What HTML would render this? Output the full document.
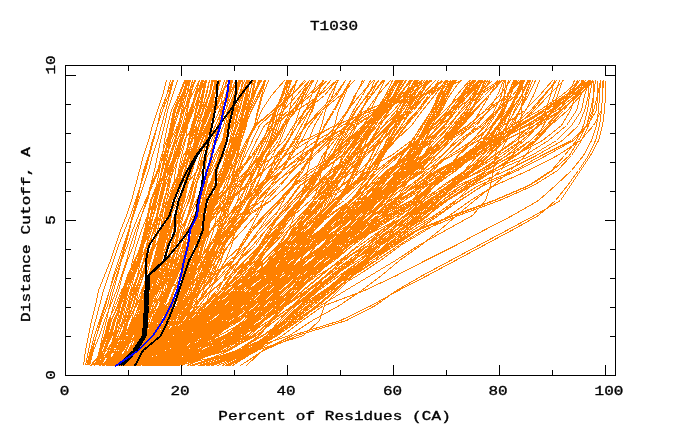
<!DOCTYPE html>
<html><head><meta charset="utf-8"><title>T1030</title>
<style>
html,body{margin:0;padding:0;background:#fff;}
body{width:680px;height:440px;overflow:hidden;position:relative;}
svg{position:absolute;left:0;top:0;display:block;}
text{font-family:"Liberation Mono","DejaVu Sans Mono",monospace;font-weight:normal;font-size:16px;fill:#000;stroke:#000;stroke-width:0.45px;}
</style></head><body>
<svg width="680" height="440" viewBox="0 0 680 440">
<rect width="680" height="440" fill="#fff"/>
<g fill="none" stroke="#ff8000" stroke-width="1" shape-rendering="crispEdges" stroke-linejoin="round">
<polyline points="98.5,365.5 101.5,350.5 105.5,335.5 109.5,320.5 113.5,305.5 118.5,290.5 122.5,275.5 127.5,260.5 133.5,245.5 137.5,230.5 141.5,215.5 146.5,200.5 150.5,185.5 154.5,170.5 157.5,155.5 160.5,140.5 164.5,125.5 167.5,110.5 172.5,95.5 177.5,80.5"/>
<polyline points="87.5,365.5 91.5,350.5 96.5,335.5 101.5,320.5 107.5,305.5 111.5,290.5 116.5,275.5 121.5,260.5 127.5,245.5 132.5,230.5 138.5,215.5 145.5,200.5 152.5,185.5 158.5,170.5 163.5,155.5 168.5,140.5 173.5,125.5 177.5,110.5 182.5,95.5 188.5,80.5"/>
<polyline points="89.5,365.5 93.5,350.5 99.5,335.5 104.5,320.5 110.5,305.5 116.5,290.5 121.5,275.5 126.5,260.5 130.5,245.5 135.5,230.5 141.5,215.5 147.5,200.5 151.5,185.5 157.5,170.5 161.5,155.5 166.5,140.5 172.5,125.5 178.5,110.5 182.5,95.5 186.5,80.5"/>
<polyline points="98.5,365.5 99.5,350.5 102.5,335.5 106.5,320.5 109.5,305.5 113.5,290.5 117.5,275.5 121.5,260.5 125.5,245.5 129.5,230.5 132.5,215.5 136.5,200.5 140.5,185.5 145.5,170.5 149.5,155.5 153.5,140.5 157.5,125.5 160.5,110.5 166.5,95.5 172.5,80.5"/>
<polyline points="97.5,365.5 103.5,350.5 108.5,335.5 114.5,320.5 119.5,305.5 124.5,290.5 130.5,275.5 135.5,260.5 141.5,245.5 146.5,230.5 150.5,215.5 156.5,200.5 160.5,185.5 164.5,170.5 167.5,155.5 170.5,140.5 174.5,125.5 179.5,110.5 183.5,95.5 188.5,80.5"/>
<polyline points="88.5,365.5 92.5,350.5 96.5,335.5 100.5,320.5 105.5,305.5 109.5,290.5 114.5,275.5 120.5,260.5 124.5,245.5 128.5,230.5 132.5,215.5 137.5,200.5 140.5,185.5 143.5,170.5 148.5,155.5 153.5,140.5 157.5,125.5 162.5,110.5 168.5,95.5 172.5,80.5"/>
<polyline points="100.5,365.5 108.5,350.5 115.5,335.5 123.5,320.5 127.5,305.5 131.5,290.5 137.5,275.5 144.5,260.5 149.5,245.5 153.5,230.5 156.5,215.5 159.5,200.5 163.5,185.5 166.5,170.5 171.5,155.5 175.5,140.5 180.5,125.5 184.5,110.5 188.5,95.5 192.5,80.5"/>
<polyline points="109.5,365.5 117.5,350.5 122.5,335.5 127.5,320.5 130.5,305.5 133.5,290.5 138.5,275.5 143.5,260.5 146.5,245.5 149.5,230.5 153.5,215.5 155.5,200.5 160.5,185.5 164.5,170.5 169.5,155.5 174.5,140.5 179.5,125.5 182.5,110.5 186.5,95.5 189.5,80.5"/>
<polyline points="105.5,365.5 111.5,350.5 116.5,335.5 120.5,320.5 124.5,305.5 128.5,290.5 133.5,275.5 139.5,260.5 143.5,245.5 147.5,230.5 150.5,215.5 153.5,200.5 158.5,185.5 162.5,170.5 166.5,155.5 172.5,140.5 178.5,125.5 182.5,110.5 186.5,95.5 190.5,80.5"/>
<polyline points="106.5,365.5 117.5,350.5 130.5,335.5 137.5,320.5 141.5,305.5 145.5,290.5 151.5,275.5 156.5,260.5 159.5,245.5 162.5,230.5 164.5,215.5 166.5,200.5 169.5,185.5 172.5,170.5 175.5,155.5 179.5,140.5 184.5,125.5 187.5,110.5 190.5,95.5 194.5,80.5"/>
<polyline points="109.5,365.5 119.5,350.5 125.5,335.5 131.5,320.5 135.5,305.5 138.5,290.5 143.5,275.5 148.5,260.5 152.5,245.5 155.5,230.5 157.5,215.5 159.5,200.5 162.5,185.5 165.5,170.5 169.5,155.5 174.5,140.5 178.5,125.5 181.5,110.5 184.5,95.5 188.5,80.5"/>
<polyline points="106.5,365.5 121.5,350.5 132.5,335.5 140.5,320.5 145.5,305.5 149.5,290.5 155.5,275.5 160.5,260.5 163.5,245.5 166.5,230.5 168.5,215.5 170.5,200.5 173.5,185.5 175.5,170.5 178.5,155.5 182.5,140.5 185.5,125.5 187.5,110.5 189.5,95.5 192.5,80.5"/>
<polyline points="115.5,365.5 120.5,350.5 127.5,335.5 133.5,320.5 138.5,305.5 142.5,290.5 149.5,275.5 154.5,260.5 157.5,245.5 160.5,230.5 162.5,215.5 164.5,200.5 167.5,185.5 170.5,170.5 175.5,155.5 180.5,140.5 187.5,125.5 191.5,110.5 194.5,95.5 199.5,80.5"/>
<polyline points="109.5,365.5 115.5,350.5 122.5,335.5 127.5,320.5 133.5,305.5 137.5,290.5 143.5,275.5 149.5,260.5 153.5,245.5 157.5,230.5 160.5,215.5 163.5,200.5 168.5,185.5 170.5,170.5 174.5,155.5 180.5,140.5 187.5,125.5 193.5,110.5 198.5,95.5 205.5,80.5"/>
<polyline points="124.5,365.5 129.5,350.5 134.5,335.5 138.5,320.5 143.5,305.5 146.5,290.5 150.5,275.5 153.5,260.5 157.5,245.5 160.5,230.5 162.5,215.5 164.5,200.5 167.5,185.5 170.5,170.5 173.5,155.5 177.5,140.5 182.5,125.5 186.5,110.5 189.5,95.5 195.5,80.5"/>
<polyline points="98.5,365.5 105.5,350.5 110.5,335.5 114.5,320.5 120.5,305.5 124.5,290.5 128.5,275.5 135.5,260.5 140.5,245.5 145.5,230.5 151.5,215.5 155.5,200.5 159.5,185.5 167.5,170.5 174.5,155.5 179.5,140.5 183.5,125.5 189.5,110.5 195.5,95.5 205.5,80.5"/>
<polyline points="94.5,365.5 100.5,350.5 106.5,335.5 111.5,320.5 117.5,305.5 122.5,290.5 127.5,275.5 134.5,260.5 141.5,245.5 146.5,230.5 151.5,215.5 155.5,200.5 158.5,185.5 165.5,170.5 171.5,155.5 174.5,140.5 180.5,125.5 184.5,110.5 191.5,95.5 199.5,80.5"/>
<polyline points="99.5,365.5 105.5,350.5 111.5,335.5 115.5,320.5 120.5,305.5 125.5,290.5 129.5,275.5 137.5,260.5 143.5,245.5 148.5,230.5 153.5,215.5 158.5,200.5 162.5,185.5 170.5,170.5 176.5,155.5 181.5,140.5 185.5,125.5 190.5,110.5 195.5,95.5 202.5,80.5"/>
<polyline points="95.5,365.5 100.5,350.5 105.5,335.5 109.5,320.5 113.5,305.5 118.5,290.5 122.5,275.5 127.5,260.5 133.5,245.5 137.5,230.5 141.5,215.5 146.5,200.5 150.5,185.5 157.5,170.5 164.5,155.5 169.5,140.5 174.5,125.5 179.5,110.5 185.5,95.5 195.5,80.5"/>
<polyline points="107.5,365.5 110.5,350.5 113.5,335.5 117.5,320.5 120.5,305.5 124.5,290.5 129.5,275.5 132.5,260.5 136.5,245.5 141.5,230.5 147.5,215.5 154.5,200.5 157.5,185.5 162.5,170.5 166.5,155.5 170.5,140.5 177.5,125.5 183.5,110.5 190.5,95.5 194.5,80.5"/>
<polyline points="113.5,365.5 117.5,350.5 121.5,335.5 125.5,320.5 128.5,305.5 132.5,290.5 137.5,275.5 140.5,260.5 146.5,245.5 151.5,230.5 157.5,215.5 161.5,200.5 165.5,185.5 171.5,170.5 177.5,155.5 182.5,140.5 187.5,125.5 192.5,110.5 195.5,95.5 199.5,80.5"/>
<polyline points="106.5,365.5 110.5,350.5 114.5,335.5 118.5,320.5 122.5,305.5 126.5,290.5 132.5,275.5 135.5,260.5 140.5,245.5 146.5,230.5 153.5,215.5 158.5,200.5 163.5,185.5 169.5,170.5 176.5,155.5 180.5,140.5 186.5,125.5 191.5,110.5 196.5,95.5 201.5,80.5"/>
<polyline points="108.5,365.5 111.5,350.5 115.5,335.5 118.5,320.5 122.5,305.5 128.5,290.5 133.5,275.5 137.5,260.5 143.5,245.5 150.5,230.5 156.5,215.5 160.5,200.5 164.5,185.5 168.5,170.5 175.5,155.5 180.5,140.5 186.5,125.5 191.5,110.5 196.5,95.5 201.5,80.5"/>
<polyline points="117.5,365.5 120.5,350.5 123.5,335.5 126.5,320.5 130.5,305.5 135.5,290.5 140.5,275.5 143.5,260.5 148.5,245.5 153.5,230.5 159.5,215.5 164.5,200.5 167.5,185.5 171.5,170.5 175.5,155.5 179.5,140.5 184.5,125.5 190.5,110.5 195.5,95.5 199.5,80.5"/>
<polyline points="120.5,365.5 125.5,350.5 131.5,335.5 135.5,320.5 140.5,305.5 147.5,290.5 151.5,275.5 155.5,260.5 161.5,245.5 165.5,230.5 169.5,215.5 173.5,200.5 176.5,185.5 178.5,170.5 181.5,155.5 185.5,140.5 187.5,125.5 190.5,110.5 196.5,95.5 202.5,80.5"/>
<polyline points="101.5,365.5 104.5,350.5 109.5,335.5 113.5,320.5 120.5,305.5 126.5,290.5 133.5,275.5 140.5,260.5 143.5,245.5 147.5,230.5 151.5,215.5 154.5,200.5 160.5,185.5 164.5,170.5 167.5,155.5 169.5,140.5 172.5,125.5 175.5,110.5 181.5,95.5 187.5,80.5"/>
<polyline points="97.5,365.5 101.5,350.5 107.5,335.5 111.5,320.5 118.5,305.5 123.5,290.5 132.5,275.5 138.5,260.5 142.5,245.5 146.5,230.5 148.5,215.5 151.5,200.5 157.5,185.5 162.5,170.5 165.5,155.5 168.5,140.5 171.5,125.5 174.5,110.5 182.5,95.5 189.5,80.5"/>
<polyline points="98.5,365.5 101.5,350.5 106.5,335.5 110.5,320.5 118.5,305.5 122.5,290.5 131.5,275.5 138.5,260.5 141.5,245.5 144.5,230.5 147.5,215.5 151.5,200.5 158.5,185.5 161.5,170.5 164.5,155.5 167.5,140.5 170.5,125.5 173.5,110.5 179.5,95.5 185.5,80.5"/>
<polyline points="95.5,365.5 99.5,350.5 106.5,335.5 111.5,320.5 118.5,305.5 123.5,290.5 132.5,275.5 137.5,260.5 141.5,245.5 145.5,230.5 147.5,215.5 150.5,200.5 156.5,185.5 159.5,170.5 162.5,155.5 164.5,140.5 167.5,125.5 171.5,110.5 178.5,95.5 184.5,80.5"/>
<polyline points="95.5,365.5 99.5,350.5 104.5,335.5 108.5,320.5 115.5,305.5 121.5,290.5 129.5,275.5 137.5,260.5 140.5,245.5 144.5,230.5 148.5,215.5 151.5,200.5 158.5,185.5 162.5,170.5 165.5,155.5 167.5,140.5 170.5,125.5 173.5,110.5 181.5,95.5 187.5,80.5"/>
<polyline points="115.5,365.5 120.5,350.5 128.5,335.5 136.5,320.5 144.5,305.5 149.5,290.5 152.5,275.5 157.5,260.5 161.5,245.5 166.5,230.5 170.5,215.5 173.5,200.5 178.5,185.5 180.5,170.5 185.5,155.5 189.5,140.5 194.5,125.5 199.5,110.5 202.5,95.5 205.5,80.5"/>
<polyline points="124.5,365.5 130.5,350.5 137.5,335.5 141.5,320.5 145.5,305.5 149.5,290.5 152.5,275.5 156.5,260.5 159.5,245.5 161.5,230.5 165.5,215.5 169.5,200.5 175.5,185.5 182.5,170.5 188.5,155.5 191.5,140.5 194.5,125.5 198.5,110.5 203.5,95.5 206.5,80.5"/>
<polyline points="110.5,365.5 123.5,350.5 132.5,335.5 139.5,320.5 144.5,305.5 147.5,290.5 150.5,275.5 154.5,260.5 157.5,245.5 160.5,230.5 164.5,215.5 168.5,200.5 173.5,185.5 181.5,170.5 185.5,155.5 188.5,140.5 191.5,125.5 196.5,110.5 201.5,95.5 205.5,80.5"/>
<polyline points="117.5,365.5 122.5,350.5 128.5,335.5 133.5,320.5 138.5,305.5 142.5,290.5 146.5,275.5 150.5,260.5 154.5,245.5 157.5,230.5 161.5,215.5 166.5,200.5 172.5,185.5 180.5,170.5 186.5,155.5 189.5,140.5 193.5,125.5 198.5,110.5 202.5,95.5 205.5,80.5"/>
<polyline points="123.5,365.5 133.5,350.5 140.5,335.5 146.5,320.5 151.5,305.5 154.5,290.5 157.5,275.5 161.5,260.5 166.5,245.5 168.5,230.5 171.5,215.5 174.5,200.5 179.5,185.5 187.5,170.5 193.5,155.5 197.5,140.5 202.5,125.5 207.5,110.5 212.5,95.5 216.5,80.5"/>
<polyline points="124.5,365.5 132.5,350.5 144.5,335.5 154.5,320.5 162.5,305.5 166.5,290.5 169.5,275.5 173.5,260.5 175.5,245.5 178.5,230.5 180.5,215.5 183.5,200.5 186.5,185.5 189.5,170.5 192.5,155.5 195.5,140.5 198.5,125.5 203.5,110.5 209.5,95.5 211.5,80.5"/>
<polyline points="134.5,365.5 141.5,350.5 148.5,335.5 155.5,320.5 159.5,305.5 162.5,290.5 165.5,275.5 168.5,260.5 171.5,245.5 173.5,230.5 176.5,215.5 179.5,200.5 183.5,185.5 187.5,170.5 191.5,155.5 194.5,140.5 198.5,125.5 203.5,110.5 209.5,95.5 213.5,80.5"/>
<polyline points="127.5,365.5 138.5,350.5 148.5,335.5 157.5,320.5 163.5,305.5 166.5,290.5 170.5,275.5 172.5,260.5 175.5,245.5 177.5,230.5 179.5,215.5 182.5,200.5 185.5,185.5 188.5,170.5 191.5,155.5 194.5,140.5 196.5,125.5 200.5,110.5 206.5,95.5 209.5,80.5"/>
<polyline points="132.5,365.5 140.5,350.5 149.5,335.5 154.5,320.5 159.5,305.5 162.5,290.5 165.5,275.5 169.5,260.5 172.5,245.5 175.5,230.5 177.5,215.5 181.5,200.5 186.5,185.5 190.5,170.5 194.5,155.5 197.5,140.5 201.5,125.5 206.5,110.5 212.5,95.5 215.5,80.5"/>
<polyline points="94.5,365.5 115.5,350.5 131.5,335.5 139.5,320.5 143.5,305.5 148.5,290.5 151.5,275.5 155.5,260.5 161.5,245.5 166.5,230.5 170.5,215.5 173.5,200.5 177.5,185.5 182.5,170.5 185.5,155.5 189.5,140.5 196.5,125.5 200.5,110.5 203.5,95.5 206.5,80.5"/>
<polyline points="90.5,365.5 106.5,350.5 116.5,335.5 122.5,320.5 125.5,305.5 130.5,290.5 134.5,275.5 140.5,260.5 147.5,245.5 154.5,230.5 159.5,215.5 164.5,200.5 168.5,185.5 173.5,170.5 179.5,155.5 184.5,140.5 193.5,125.5 196.5,110.5 199.5,95.5 203.5,80.5"/>
<polyline points="90.5,365.5 103.5,350.5 112.5,335.5 119.5,320.5 123.5,305.5 127.5,290.5 131.5,275.5 137.5,260.5 143.5,245.5 148.5,230.5 153.5,215.5 156.5,200.5 160.5,185.5 165.5,170.5 170.5,155.5 176.5,140.5 186.5,125.5 192.5,110.5 195.5,95.5 199.5,80.5"/>
<polyline points="98.5,365.5 111.5,350.5 120.5,335.5 127.5,320.5 132.5,305.5 136.5,290.5 141.5,275.5 148.5,260.5 155.5,245.5 163.5,230.5 169.5,215.5 173.5,200.5 178.5,185.5 182.5,170.5 186.5,155.5 192.5,140.5 198.5,125.5 202.5,110.5 205.5,95.5 209.5,80.5"/>
<polyline points="106.5,365.5 110.5,350.5 118.5,335.5 124.5,320.5 129.5,305.5 134.5,290.5 141.5,275.5 146.5,260.5 152.5,245.5 159.5,230.5 166.5,215.5 170.5,200.5 176.5,185.5 181.5,170.5 185.5,155.5 188.5,140.5 192.5,125.5 195.5,110.5 198.5,95.5 202.5,80.5"/>
<polyline points="143.5,365.5 154.5,350.5 165.5,335.5 171.5,320.5 178.5,305.5 182.5,290.5 187.5,275.5 193.5,260.5 197.5,245.5 202.5,230.5 207.5,215.5 211.5,200.5 219.5,185.5 225.5,170.5 231.5,155.5 235.5,140.5 239.5,125.5 243.5,110.5 247.5,95.5 249.5,80.5"/>
<polyline points="137.5,365.5 149.5,350.5 161.5,335.5 168.5,320.5 174.5,305.5 179.5,290.5 185.5,275.5 193.5,260.5 198.5,245.5 204.5,230.5 208.5,215.5 212.5,200.5 220.5,185.5 227.5,170.5 231.5,155.5 235.5,140.5 239.5,125.5 242.5,110.5 246.5,95.5 248.5,80.5"/>
<polyline points="142.5,365.5 152.5,350.5 163.5,335.5 169.5,320.5 177.5,305.5 181.5,290.5 187.5,275.5 192.5,260.5 197.5,245.5 203.5,230.5 208.5,215.5 213.5,200.5 221.5,185.5 228.5,170.5 233.5,155.5 237.5,140.5 243.5,125.5 248.5,110.5 252.5,95.5 255.5,80.5"/>
<polyline points="134.5,365.5 145.5,350.5 156.5,335.5 162.5,320.5 169.5,305.5 174.5,290.5 181.5,275.5 186.5,260.5 190.5,245.5 195.5,230.5 199.5,215.5 203.5,200.5 210.5,185.5 216.5,170.5 220.5,155.5 223.5,140.5 227.5,125.5 231.5,110.5 236.5,95.5 238.5,80.5"/>
<polyline points="140.5,365.5 148.5,350.5 157.5,335.5 162.5,320.5 168.5,305.5 173.5,290.5 179.5,275.5 186.5,260.5 190.5,245.5 195.5,230.5 201.5,215.5 205.5,200.5 214.5,185.5 221.5,170.5 227.5,155.5 232.5,140.5 236.5,125.5 241.5,110.5 245.5,95.5 248.5,80.5"/>
<polyline points="138.5,365.5 145.5,350.5 151.5,335.5 157.5,320.5 161.5,305.5 167.5,290.5 171.5,275.5 175.5,260.5 178.5,245.5 181.5,230.5 188.5,215.5 192.5,200.5 195.5,185.5 200.5,170.5 205.5,155.5 211.5,140.5 217.5,125.5 225.5,110.5 231.5,95.5 236.5,80.5"/>
<polyline points="130.5,365.5 133.5,350.5 136.5,335.5 140.5,320.5 144.5,305.5 149.5,290.5 153.5,275.5 156.5,260.5 160.5,245.5 162.5,230.5 169.5,215.5 174.5,200.5 179.5,185.5 184.5,170.5 190.5,155.5 195.5,140.5 199.5,125.5 206.5,110.5 211.5,95.5 215.5,80.5"/>
<polyline points="121.5,365.5 142.5,350.5 159.5,335.5 171.5,320.5 179.5,305.5 184.5,290.5 189.5,275.5 196.5,260.5 203.5,245.5 206.5,230.5 211.5,215.5 216.5,200.5 220.5,185.5 225.5,170.5 230.5,155.5 232.5,140.5 235.5,125.5 237.5,110.5 240.5,95.5 242.5,80.5"/>
<polyline points="132.5,365.5 137.5,350.5 141.5,335.5 145.5,320.5 149.5,305.5 152.5,290.5 157.5,275.5 165.5,260.5 173.5,245.5 179.5,230.5 188.5,215.5 196.5,200.5 203.5,185.5 212.5,170.5 219.5,155.5 223.5,140.5 226.5,125.5 230.5,110.5 234.5,95.5 238.5,80.5"/>
<polyline points="103.5,365.5 111.5,350.5 118.5,335.5 123.5,320.5 129.5,305.5 134.5,290.5 142.5,275.5 147.5,260.5 152.5,245.5 155.5,230.5 159.5,215.5 168.5,200.5 176.5,185.5 181.5,170.5 186.5,155.5 196.5,140.5 201.5,125.5 206.5,110.5 211.5,95.5 216.5,80.5"/>
<polyline points="109.5,365.5 115.5,350.5 123.5,335.5 128.5,320.5 135.5,305.5 141.5,290.5 148.5,275.5 153.5,260.5 157.5,245.5 160.5,230.5 164.5,215.5 174.5,200.5 180.5,185.5 184.5,170.5 188.5,155.5 197.5,140.5 202.5,125.5 208.5,110.5 212.5,95.5 216.5,80.5"/>
<polyline points="112.5,365.5 119.5,350.5 128.5,335.5 134.5,320.5 140.5,305.5 147.5,290.5 155.5,275.5 160.5,260.5 164.5,245.5 167.5,230.5 170.5,215.5 178.5,200.5 184.5,185.5 188.5,170.5 192.5,155.5 199.5,140.5 202.5,125.5 207.5,110.5 212.5,95.5 216.5,80.5"/>
<polyline points="116.5,365.5 122.5,350.5 131.5,335.5 136.5,320.5 144.5,305.5 151.5,290.5 159.5,275.5 165.5,260.5 168.5,245.5 171.5,230.5 175.5,215.5 181.5,200.5 186.5,185.5 190.5,170.5 194.5,155.5 202.5,140.5 207.5,125.5 212.5,110.5 216.5,95.5 220.5,80.5"/>
<polyline points="110.5,365.5 117.5,350.5 126.5,335.5 132.5,320.5 139.5,305.5 145.5,290.5 152.5,275.5 157.5,260.5 161.5,245.5 164.5,230.5 169.5,215.5 176.5,200.5 181.5,185.5 185.5,170.5 189.5,155.5 197.5,140.5 201.5,125.5 205.5,110.5 208.5,95.5 212.5,80.5"/>
<polyline points="111.5,365.5 122.5,350.5 132.5,335.5 137.5,320.5 142.5,305.5 146.5,290.5 151.5,275.5 154.5,260.5 158.5,245.5 161.5,230.5 164.5,215.5 171.5,200.5 175.5,185.5 179.5,170.5 183.5,155.5 191.5,140.5 196.5,125.5 202.5,110.5 208.5,95.5 212.5,80.5"/>
<polyline points="131.5,365.5 143.5,350.5 152.5,335.5 159.5,320.5 164.5,305.5 169.5,290.5 175.5,275.5 181.5,260.5 185.5,245.5 191.5,230.5 197.5,215.5 202.5,200.5 205.5,185.5 208.5,170.5 210.5,155.5 213.5,140.5 218.5,125.5 223.5,110.5 228.5,95.5 231.5,80.5"/>
<polyline points="115.5,365.5 135.5,350.5 154.5,335.5 166.5,320.5 172.5,305.5 179.5,290.5 186.5,275.5 192.5,260.5 196.5,245.5 203.5,230.5 210.5,215.5 217.5,200.5 219.5,185.5 223.5,170.5 226.5,155.5 229.5,140.5 233.5,125.5 239.5,110.5 243.5,95.5 246.5,80.5"/>
<polyline points="129.5,365.5 138.5,350.5 147.5,335.5 155.5,320.5 161.5,305.5 168.5,290.5 174.5,275.5 179.5,260.5 183.5,245.5 188.5,230.5 194.5,215.5 199.5,200.5 203.5,185.5 207.5,170.5 211.5,155.5 215.5,140.5 219.5,125.5 225.5,110.5 229.5,95.5 232.5,80.5"/>
<polyline points="124.5,365.5 133.5,350.5 142.5,335.5 152.5,320.5 160.5,305.5 168.5,290.5 175.5,275.5 180.5,260.5 183.5,245.5 188.5,230.5 194.5,215.5 200.5,200.5 203.5,185.5 207.5,170.5 210.5,155.5 213.5,140.5 217.5,125.5 223.5,110.5 227.5,95.5 231.5,80.5"/>
<polyline points="138.5,365.5 149.5,350.5 162.5,335.5 174.5,320.5 180.5,305.5 185.5,290.5 192.5,275.5 196.5,260.5 199.5,245.5 203.5,230.5 207.5,215.5 210.5,200.5 214.5,185.5 217.5,170.5 221.5,155.5 224.5,140.5 227.5,125.5 229.5,110.5 234.5,95.5 238.5,80.5"/>
<polyline points="138.5,365.5 147.5,350.5 157.5,335.5 168.5,320.5 174.5,305.5 181.5,290.5 189.5,275.5 193.5,260.5 195.5,245.5 198.5,230.5 202.5,215.5 207.5,200.5 212.5,185.5 216.5,170.5 220.5,155.5 223.5,140.5 227.5,125.5 229.5,110.5 235.5,95.5 239.5,80.5"/>
<polyline points="133.5,365.5 143.5,350.5 155.5,335.5 166.5,320.5 173.5,305.5 179.5,290.5 186.5,275.5 190.5,260.5 193.5,245.5 196.5,230.5 199.5,215.5 202.5,200.5 206.5,185.5 209.5,170.5 212.5,155.5 215.5,140.5 218.5,125.5 220.5,110.5 225.5,95.5 230.5,80.5"/>
<polyline points="134.5,365.5 144.5,350.5 154.5,335.5 165.5,320.5 171.5,305.5 177.5,290.5 185.5,275.5 189.5,260.5 192.5,245.5 197.5,230.5 201.5,215.5 206.5,200.5 211.5,185.5 216.5,170.5 219.5,155.5 222.5,140.5 225.5,125.5 228.5,110.5 234.5,95.5 239.5,80.5"/>
<polyline points="121.5,365.5 129.5,350.5 141.5,335.5 146.5,320.5 150.5,305.5 156.5,290.5 161.5,275.5 166.5,260.5 171.5,245.5 177.5,230.5 182.5,215.5 189.5,200.5 193.5,185.5 199.5,170.5 204.5,155.5 209.5,140.5 215.5,125.5 222.5,110.5 229.5,95.5 235.5,80.5"/>
<polyline points="120.5,365.5 128.5,350.5 135.5,335.5 138.5,320.5 142.5,305.5 149.5,290.5 155.5,275.5 159.5,260.5 163.5,245.5 169.5,230.5 174.5,215.5 180.5,200.5 185.5,185.5 191.5,170.5 196.5,155.5 202.5,140.5 208.5,125.5 214.5,110.5 220.5,95.5 227.5,80.5"/>
<polyline points="123.5,365.5 132.5,350.5 142.5,335.5 146.5,320.5 149.5,305.5 154.5,290.5 160.5,275.5 164.5,260.5 168.5,245.5 174.5,230.5 180.5,215.5 186.5,200.5 191.5,185.5 196.5,170.5 200.5,155.5 204.5,140.5 208.5,125.5 215.5,110.5 221.5,95.5 227.5,80.5"/>
<polyline points="121.5,365.5 133.5,350.5 143.5,335.5 149.5,320.5 153.5,305.5 157.5,290.5 162.5,275.5 165.5,260.5 168.5,245.5 170.5,230.5 174.5,215.5 179.5,200.5 184.5,185.5 188.5,170.5 192.5,155.5 197.5,140.5 201.5,125.5 208.5,110.5 213.5,95.5 219.5,80.5"/>
<polyline points="113.5,365.5 128.5,350.5 140.5,335.5 147.5,320.5 153.5,305.5 160.5,290.5 164.5,275.5 167.5,260.5 171.5,245.5 174.5,230.5 179.5,215.5 182.5,200.5 186.5,185.5 190.5,170.5 193.5,155.5 199.5,140.5 203.5,125.5 209.5,110.5 213.5,95.5 219.5,80.5"/>
<polyline points="117.5,365.5 131.5,350.5 141.5,335.5 147.5,320.5 155.5,305.5 162.5,290.5 167.5,275.5 172.5,260.5 176.5,245.5 179.5,230.5 183.5,215.5 188.5,200.5 192.5,185.5 196.5,170.5 200.5,155.5 205.5,140.5 209.5,125.5 214.5,110.5 219.5,95.5 224.5,80.5"/>
<polyline points="139.5,365.5 156.5,350.5 169.5,335.5 177.5,320.5 182.5,305.5 187.5,290.5 192.5,275.5 197.5,260.5 201.5,245.5 205.5,230.5 209.5,215.5 212.5,200.5 218.5,185.5 227.5,170.5 234.5,155.5 239.5,140.5 242.5,125.5 246.5,110.5 252.5,95.5 260.5,80.5"/>
<polyline points="138.5,365.5 149.5,350.5 158.5,335.5 166.5,320.5 172.5,305.5 179.5,290.5 184.5,275.5 189.5,260.5 196.5,245.5 202.5,230.5 206.5,215.5 209.5,200.5 214.5,185.5 223.5,170.5 231.5,155.5 238.5,140.5 243.5,125.5 249.5,110.5 257.5,95.5 264.5,80.5"/>
<polyline points="148.5,365.5 164.5,350.5 176.5,335.5 183.5,320.5 189.5,305.5 195.5,290.5 200.5,275.5 204.5,260.5 208.5,245.5 213.5,230.5 216.5,215.5 220.5,200.5 224.5,185.5 230.5,170.5 236.5,155.5 240.5,140.5 243.5,125.5 247.5,110.5 252.5,95.5 259.5,80.5"/>
<polyline points="138.5,365.5 150.5,350.5 160.5,335.5 167.5,320.5 172.5,305.5 176.5,290.5 182.5,275.5 187.5,260.5 193.5,245.5 199.5,230.5 203.5,215.5 207.5,200.5 211.5,185.5 220.5,170.5 229.5,155.5 235.5,140.5 239.5,125.5 244.5,110.5 252.5,95.5 259.5,80.5"/>
<polyline points="136.5,365.5 154.5,350.5 167.5,335.5 177.5,320.5 183.5,305.5 189.5,290.5 193.5,275.5 197.5,260.5 202.5,245.5 206.5,230.5 210.5,215.5 214.5,200.5 219.5,185.5 227.5,170.5 233.5,155.5 238.5,140.5 242.5,125.5 246.5,110.5 252.5,95.5 259.5,80.5"/>
<polyline points="133.5,365.5 149.5,350.5 164.5,335.5 173.5,320.5 179.5,305.5 185.5,290.5 190.5,275.5 197.5,260.5 202.5,245.5 207.5,230.5 209.5,215.5 212.5,200.5 216.5,185.5 224.5,170.5 234.5,155.5 239.5,140.5 243.5,125.5 247.5,110.5 253.5,95.5 260.5,80.5"/>
<polyline points="144.5,365.5 159.5,350.5 172.5,335.5 179.5,320.5 185.5,305.5 191.5,290.5 194.5,275.5 198.5,260.5 203.5,245.5 207.5,230.5 210.5,215.5 212.5,200.5 216.5,185.5 225.5,170.5 232.5,155.5 237.5,140.5 241.5,125.5 246.5,110.5 252.5,95.5 259.5,80.5"/>
<polyline points="139.5,365.5 153.5,350.5 163.5,335.5 172.5,320.5 180.5,305.5 185.5,290.5 192.5,275.5 199.5,260.5 203.5,245.5 208.5,230.5 211.5,215.5 214.5,200.5 220.5,185.5 225.5,170.5 232.5,155.5 239.5,140.5 244.5,125.5 251.5,110.5 259.5,95.5 265.5,80.5"/>
<polyline points="138.5,365.5 152.5,350.5 160.5,335.5 169.5,320.5 177.5,305.5 182.5,290.5 189.5,275.5 197.5,260.5 201.5,245.5 206.5,230.5 211.5,215.5 215.5,200.5 220.5,185.5 226.5,170.5 233.5,155.5 241.5,140.5 245.5,125.5 251.5,110.5 258.5,95.5 264.5,80.5"/>
<polyline points="138.5,365.5 151.5,350.5 159.5,335.5 169.5,320.5 176.5,305.5 182.5,290.5 188.5,275.5 196.5,260.5 199.5,245.5 204.5,230.5 208.5,215.5 213.5,200.5 219.5,185.5 224.5,170.5 231.5,155.5 237.5,140.5 242.5,125.5 249.5,110.5 257.5,95.5 265.5,80.5"/>
<polyline points="134.5,365.5 139.5,350.5 146.5,335.5 149.5,320.5 155.5,305.5 164.5,290.5 168.5,275.5 174.5,260.5 180.5,245.5 183.5,230.5 187.5,215.5 191.5,200.5 195.5,185.5 202.5,170.5 207.5,155.5 217.5,140.5 223.5,125.5 227.5,110.5 233.5,95.5 238.5,80.5"/>
<polyline points="136.5,365.5 143.5,350.5 150.5,335.5 153.5,320.5 159.5,305.5 166.5,290.5 171.5,275.5 176.5,260.5 182.5,245.5 186.5,230.5 191.5,215.5 197.5,200.5 201.5,185.5 209.5,170.5 214.5,155.5 222.5,140.5 226.5,125.5 230.5,110.5 236.5,95.5 240.5,80.5"/>
<polyline points="133.5,365.5 146.5,350.5 159.5,335.5 164.5,320.5 172.5,305.5 181.5,290.5 186.5,275.5 192.5,260.5 199.5,245.5 203.5,230.5 208.5,215.5 213.5,200.5 218.5,185.5 226.5,170.5 232.5,155.5 239.5,140.5 244.5,125.5 249.5,110.5 254.5,95.5 258.5,80.5"/>
<polyline points="131.5,365.5 143.5,350.5 152.5,335.5 156.5,320.5 161.5,305.5 170.5,290.5 176.5,275.5 182.5,260.5 188.5,245.5 192.5,230.5 199.5,215.5 204.5,200.5 208.5,185.5 216.5,170.5 223.5,155.5 231.5,140.5 237.5,125.5 243.5,110.5 248.5,95.5 253.5,80.5"/>
<polyline points="133.5,365.5 140.5,350.5 148.5,335.5 151.5,320.5 159.5,305.5 170.5,290.5 173.5,275.5 177.5,260.5 184.5,245.5 188.5,230.5 194.5,215.5 199.5,200.5 202.5,185.5 209.5,170.5 214.5,155.5 223.5,140.5 231.5,125.5 235.5,110.5 242.5,95.5 246.5,80.5"/>
<polyline points="139.5,365.5 143.5,350.5 149.5,335.5 155.5,320.5 164.5,305.5 170.5,290.5 176.5,275.5 183.5,260.5 190.5,245.5 201.5,230.5 207.5,215.5 213.5,200.5 217.5,185.5 223.5,170.5 229.5,155.5 234.5,140.5 240.5,125.5 244.5,110.5 248.5,95.5 253.5,80.5"/>
<polyline points="133.5,365.5 140.5,350.5 149.5,335.5 158.5,320.5 167.5,305.5 173.5,290.5 179.5,275.5 186.5,260.5 192.5,245.5 199.5,230.5 204.5,215.5 209.5,200.5 214.5,185.5 221.5,170.5 228.5,155.5 233.5,140.5 239.5,125.5 242.5,110.5 246.5,95.5 249.5,80.5"/>
<polyline points="135.5,365.5 145.5,350.5 159.5,335.5 168.5,320.5 181.5,305.5 190.5,290.5 197.5,275.5 204.5,260.5 210.5,245.5 220.5,230.5 224.5,215.5 228.5,200.5 233.5,185.5 238.5,170.5 243.5,155.5 248.5,140.5 254.5,125.5 257.5,110.5 261.5,95.5 265.5,80.5"/>
<polyline points="142.5,365.5 150.5,350.5 164.5,335.5 177.5,320.5 188.5,305.5 198.5,290.5 205.5,275.5 210.5,260.5 214.5,245.5 218.5,230.5 222.5,215.5 226.5,200.5 230.5,185.5 233.5,170.5 236.5,155.5 239.5,140.5 244.5,125.5 246.5,110.5 249.5,95.5 252.5,80.5"/>
<polyline points="130.5,365.5 141.5,350.5 155.5,335.5 171.5,320.5 184.5,305.5 195.5,290.5 203.5,275.5 208.5,260.5 213.5,245.5 217.5,230.5 220.5,215.5 224.5,200.5 227.5,185.5 230.5,170.5 232.5,155.5 236.5,140.5 241.5,125.5 243.5,110.5 246.5,95.5 249.5,80.5"/>
<polyline points="144.5,365.5 153.5,350.5 164.5,335.5 172.5,320.5 179.5,305.5 185.5,290.5 189.5,275.5 193.5,260.5 198.5,245.5 203.5,230.5 208.5,215.5 212.5,200.5 217.5,185.5 221.5,170.5 225.5,155.5 230.5,140.5 235.5,125.5 238.5,110.5 243.5,95.5 248.5,80.5"/>
<polyline points="136.5,365.5 144.5,350.5 158.5,335.5 172.5,320.5 183.5,305.5 194.5,290.5 201.5,275.5 207.5,260.5 213.5,245.5 218.5,230.5 222.5,215.5 227.5,200.5 231.5,185.5 234.5,170.5 237.5,155.5 241.5,140.5 246.5,125.5 248.5,110.5 251.5,95.5 254.5,80.5"/>
<polyline points="128.5,365.5 132.5,350.5 138.5,335.5 142.5,320.5 148.5,305.5 153.5,290.5 158.5,275.5 163.5,260.5 167.5,245.5 171.5,230.5 175.5,215.5 179.5,200.5 185.5,185.5 197.5,170.5 202.5,155.5 207.5,140.5 215.5,125.5 221.5,110.5 225.5,95.5 229.5,80.5"/>
<polyline points="118.5,365.5 122.5,350.5 128.5,335.5 132.5,320.5 139.5,305.5 143.5,290.5 148.5,275.5 154.5,260.5 159.5,245.5 163.5,230.5 167.5,215.5 171.5,200.5 180.5,185.5 191.5,170.5 197.5,155.5 204.5,140.5 212.5,125.5 219.5,110.5 222.5,95.5 226.5,80.5"/>
<polyline points="126.5,365.5 131.5,350.5 136.5,335.5 139.5,320.5 144.5,305.5 149.5,290.5 154.5,275.5 158.5,260.5 160.5,245.5 163.5,230.5 168.5,215.5 171.5,200.5 177.5,185.5 187.5,170.5 192.5,155.5 197.5,140.5 204.5,125.5 210.5,110.5 214.5,95.5 218.5,80.5"/>
<polyline points="131.5,365.5 135.5,350.5 140.5,335.5 142.5,320.5 147.5,305.5 150.5,290.5 153.5,275.5 158.5,260.5 162.5,245.5 165.5,230.5 170.5,215.5 174.5,200.5 179.5,185.5 188.5,170.5 193.5,155.5 198.5,140.5 206.5,125.5 212.5,110.5 216.5,95.5 219.5,80.5"/>
<polyline points="128.5,365.5 132.5,350.5 137.5,335.5 140.5,320.5 144.5,305.5 148.5,290.5 153.5,275.5 157.5,260.5 161.5,245.5 164.5,230.5 169.5,215.5 173.5,200.5 179.5,185.5 188.5,170.5 194.5,155.5 199.5,140.5 207.5,125.5 213.5,110.5 216.5,95.5 220.5,80.5"/>
<polyline points="130.5,365.5 133.5,350.5 138.5,335.5 144.5,320.5 148.5,305.5 151.5,290.5 156.5,275.5 160.5,260.5 166.5,245.5 171.5,230.5 177.5,215.5 181.5,200.5 184.5,185.5 189.5,170.5 193.5,155.5 198.5,140.5 202.5,125.5 209.5,110.5 219.5,95.5 230.5,80.5"/>
<polyline points="121.5,365.5 126.5,350.5 132.5,335.5 138.5,320.5 142.5,305.5 147.5,290.5 151.5,275.5 156.5,260.5 163.5,245.5 170.5,230.5 178.5,215.5 184.5,200.5 187.5,185.5 192.5,170.5 196.5,155.5 201.5,140.5 207.5,125.5 215.5,110.5 227.5,95.5 239.5,80.5"/>
<polyline points="123.5,365.5 140.5,350.5 150.5,335.5 156.5,320.5 161.5,305.5 167.5,290.5 175.5,275.5 182.5,260.5 189.5,245.5 193.5,230.5 197.5,215.5 200.5,200.5 205.5,185.5 210.5,170.5 216.5,155.5 222.5,140.5 228.5,125.5 233.5,110.5 238.5,95.5 244.5,80.5"/>
<polyline points="135.5,365.5 144.5,350.5 150.5,335.5 155.5,320.5 159.5,305.5 165.5,290.5 173.5,275.5 180.5,260.5 189.5,245.5 194.5,230.5 198.5,215.5 203.5,200.5 209.5,185.5 215.5,170.5 220.5,155.5 225.5,140.5 230.5,125.5 234.5,110.5 240.5,95.5 246.5,80.5"/>
<polyline points="140.5,365.5 147.5,350.5 153.5,335.5 157.5,320.5 162.5,305.5 167.5,290.5 174.5,275.5 182.5,260.5 190.5,245.5 196.5,230.5 201.5,215.5 205.5,200.5 209.5,185.5 214.5,170.5 218.5,155.5 222.5,140.5 226.5,125.5 231.5,110.5 235.5,95.5 241.5,80.5"/>
<polyline points="109.5,365.5 129.5,350.5 146.5,335.5 165.5,320.5 186.5,305.5 191.5,290.5 193.5,275.5 195.5,260.5 196.5,245.5 198.5,230.5 200.5,215.5 202.5,200.5 204.5,185.5 205.5,170.5 206.5,155.5 209.5,140.5 210.5,125.5 211.5,110.5 213.5,95.5 214.5,80.5"/>
<polyline points="91.5,365.5 111.5,350.5 128.5,335.5 144.5,320.5 161.5,305.5 167.5,290.5 171.5,275.5 175.5,260.5 179.5,245.5 183.5,230.5 188.5,215.5 193.5,200.5 196.5,185.5 199.5,170.5 202.5,155.5 206.5,140.5 210.5,125.5 211.5,110.5 214.5,95.5 216.5,80.5"/>
<polyline points="144.5,365.5 149.5,350.5 152.5,335.5 156.5,320.5 159.5,305.5 168.5,290.5 173.5,275.5 180.5,260.5 187.5,245.5 195.5,230.5 199.5,215.5 204.5,200.5 210.5,185.5 215.5,170.5 219.5,155.5 226.5,140.5 232.5,125.5 236.5,110.5 241.5,95.5 247.5,80.5"/>
<polyline points="147.5,365.5 152.5,350.5 164.5,335.5 172.5,320.5 180.5,305.5 190.5,290.5 197.5,275.5 203.5,260.5 209.5,245.5 218.5,230.5 225.5,215.5 232.5,200.5 240.5,185.5 247.5,170.5 254.5,155.5 262.5,140.5 269.5,125.5 275.5,110.5 281.5,95.5 288.5,80.5"/>
<polyline points="145.5,365.5 153.5,350.5 174.5,335.5 182.5,320.5 190.5,305.5 198.5,290.5 205.5,275.5 212.5,260.5 218.5,245.5 229.5,230.5 237.5,215.5 246.5,200.5 253.5,185.5 258.5,170.5 263.5,155.5 270.5,140.5 275.5,125.5 281.5,110.5 288.5,95.5 297.5,80.5"/>
<polyline points="138.5,365.5 149.5,350.5 172.5,335.5 185.5,320.5 196.5,305.5 207.5,290.5 213.5,275.5 218.5,260.5 222.5,245.5 229.5,230.5 234.5,215.5 240.5,200.5 246.5,185.5 252.5,170.5 260.5,155.5 267.5,140.5 272.5,125.5 276.5,110.5 282.5,95.5 289.5,80.5"/>
<polyline points="138.5,365.5 144.5,350.5 153.5,335.5 160.5,320.5 168.5,305.5 174.5,290.5 182.5,275.5 191.5,260.5 198.5,245.5 204.5,230.5 213.5,215.5 222.5,200.5 229.5,185.5 236.5,170.5 241.5,155.5 247.5,140.5 255.5,125.5 261.5,110.5 271.5,95.5 284.5,80.5"/>
<polyline points="136.5,365.5 148.5,350.5 158.5,335.5 167.5,320.5 171.5,305.5 180.5,290.5 186.5,275.5 194.5,260.5 199.5,245.5 203.5,230.5 209.5,215.5 213.5,200.5 219.5,185.5 223.5,170.5 228.5,155.5 233.5,140.5 241.5,125.5 246.5,110.5 253.5,95.5 261.5,80.5"/>
<polyline points="129.5,365.5 140.5,350.5 153.5,335.5 168.5,320.5 180.5,305.5 194.5,290.5 204.5,275.5 213.5,260.5 218.5,245.5 221.5,230.5 227.5,215.5 230.5,200.5 236.5,185.5 239.5,170.5 243.5,155.5 248.5,140.5 254.5,125.5 258.5,110.5 262.5,95.5 268.5,80.5"/>
<polyline points="141.5,365.5 148.5,350.5 158.5,335.5 171.5,320.5 177.5,305.5 187.5,290.5 194.5,275.5 205.5,260.5 213.5,245.5 222.5,230.5 236.5,215.5 244.5,200.5 251.5,185.5 259.5,170.5 267.5,155.5 278.5,140.5 284.5,125.5 289.5,110.5 292.5,95.5 296.5,80.5"/>
<polyline points="149.5,365.5 158.5,350.5 170.5,335.5 181.5,320.5 187.5,305.5 196.5,290.5 201.5,275.5 212.5,260.5 219.5,245.5 226.5,230.5 236.5,215.5 244.5,200.5 253.5,185.5 259.5,170.5 266.5,155.5 274.5,140.5 279.5,125.5 283.5,110.5 286.5,95.5 291.5,80.5"/>
<polyline points="139.5,365.5 144.5,350.5 157.5,335.5 177.5,320.5 188.5,305.5 201.5,290.5 208.5,275.5 219.5,260.5 228.5,245.5 236.5,230.5 243.5,215.5 249.5,200.5 257.5,185.5 262.5,170.5 267.5,155.5 273.5,140.5 277.5,125.5 281.5,110.5 285.5,95.5 288.5,80.5"/>
<polyline points="138.5,365.5 158.5,350.5 172.5,335.5 180.5,320.5 189.5,305.5 196.5,290.5 204.5,275.5 209.5,260.5 213.5,245.5 224.5,230.5 231.5,215.5 237.5,200.5 241.5,185.5 250.5,170.5 257.5,155.5 263.5,140.5 268.5,125.5 274.5,110.5 283.5,95.5 287.5,80.5"/>
<polyline points="150.5,365.5 169.5,350.5 183.5,335.5 190.5,320.5 197.5,305.5 203.5,290.5 210.5,275.5 215.5,260.5 218.5,245.5 228.5,230.5 236.5,215.5 243.5,200.5 248.5,185.5 255.5,170.5 262.5,155.5 269.5,140.5 274.5,125.5 278.5,110.5 286.5,95.5 290.5,80.5"/>
<polyline points="151.5,365.5 163.5,350.5 174.5,335.5 182.5,320.5 189.5,305.5 194.5,290.5 197.5,275.5 201.5,260.5 205.5,245.5 210.5,230.5 223.5,215.5 232.5,200.5 240.5,185.5 248.5,170.5 257.5,155.5 265.5,140.5 271.5,125.5 275.5,110.5 281.5,95.5 286.5,80.5"/>
<polyline points="143.5,365.5 148.5,350.5 156.5,335.5 161.5,320.5 164.5,305.5 169.5,290.5 174.5,275.5 185.5,260.5 198.5,245.5 210.5,230.5 220.5,215.5 227.5,200.5 235.5,185.5 246.5,170.5 262.5,155.5 275.5,140.5 284.5,125.5 295.5,110.5 302.5,95.5 312.5,80.5"/>
<polyline points="145.5,365.5 149.5,350.5 155.5,335.5 160.5,320.5 164.5,305.5 168.5,290.5 175.5,275.5 186.5,260.5 200.5,245.5 211.5,230.5 222.5,215.5 230.5,200.5 238.5,185.5 247.5,170.5 261.5,155.5 272.5,140.5 283.5,125.5 296.5,110.5 303.5,95.5 311.5,80.5"/>
<polyline points="138.5,365.5 143.5,350.5 147.5,335.5 151.5,320.5 156.5,305.5 166.5,290.5 173.5,275.5 181.5,260.5 188.5,245.5 198.5,230.5 206.5,215.5 219.5,200.5 230.5,185.5 247.5,170.5 260.5,155.5 273.5,140.5 283.5,125.5 296.5,110.5 319.5,95.5 336.5,80.5"/>
<polyline points="140.5,365.5 145.5,350.5 150.5,335.5 156.5,320.5 160.5,305.5 170.5,290.5 177.5,275.5 184.5,260.5 191.5,245.5 200.5,230.5 209.5,215.5 223.5,200.5 237.5,185.5 253.5,170.5 268.5,155.5 284.5,140.5 293.5,125.5 305.5,110.5 324.5,95.5 336.5,80.5"/>
<polyline points="151.5,365.5 157.5,350.5 164.5,335.5 171.5,320.5 178.5,305.5 183.5,290.5 187.5,275.5 192.5,260.5 199.5,245.5 205.5,230.5 213.5,215.5 224.5,200.5 249.5,185.5 264.5,170.5 279.5,155.5 287.5,140.5 297.5,125.5 309.5,110.5 317.5,95.5 323.5,80.5"/>
<polyline points="152.5,365.5 161.5,350.5 169.5,335.5 179.5,320.5 188.5,305.5 193.5,290.5 199.5,275.5 206.5,260.5 214.5,245.5 220.5,230.5 228.5,215.5 242.5,200.5 263.5,185.5 277.5,170.5 291.5,155.5 298.5,140.5 304.5,125.5 312.5,110.5 317.5,95.5 322.5,80.5"/>
<polyline points="109.5,365.5 119.5,350.5 128.5,335.5 136.5,320.5 146.5,305.5 158.5,290.5 171.5,275.5 182.5,260.5 190.5,245.5 198.5,230.5 206.5,215.5 217.5,200.5 229.5,185.5 237.5,170.5 245.5,155.5 252.5,140.5 259.5,125.5 275.5,110.5 291.5,95.5 304.5,80.5"/>
<polyline points="110.5,365.5 121.5,350.5 130.5,335.5 137.5,320.5 145.5,305.5 159.5,290.5 171.5,275.5 183.5,260.5 189.5,245.5 195.5,230.5 202.5,215.5 214.5,200.5 226.5,185.5 233.5,170.5 240.5,155.5 247.5,140.5 256.5,125.5 272.5,110.5 286.5,95.5 297.5,80.5"/>
<polyline points="104.5,365.5 112.5,350.5 121.5,335.5 128.5,320.5 135.5,305.5 145.5,290.5 157.5,275.5 171.5,260.5 179.5,245.5 187.5,230.5 195.5,215.5 208.5,200.5 221.5,185.5 231.5,170.5 238.5,155.5 246.5,140.5 254.5,125.5 273.5,110.5 290.5,95.5 306.5,80.5"/>
<polyline points="112.5,365.5 121.5,350.5 129.5,335.5 135.5,320.5 143.5,305.5 155.5,290.5 169.5,275.5 182.5,260.5 190.5,245.5 197.5,230.5 205.5,215.5 217.5,200.5 231.5,185.5 241.5,170.5 249.5,155.5 256.5,140.5 264.5,125.5 283.5,110.5 296.5,95.5 309.5,80.5"/>
<polyline points="140.5,365.5 153.5,350.5 170.5,335.5 187.5,320.5 196.5,305.5 205.5,290.5 220.5,275.5 233.5,260.5 240.5,245.5 249.5,230.5 257.5,215.5 266.5,200.5 280.5,185.5 292.5,170.5 301.5,155.5 308.5,140.5 314.5,125.5 323.5,110.5 329.5,95.5 338.5,80.5"/>
<polyline points="135.5,365.5 150.5,350.5 164.5,335.5 182.5,320.5 193.5,305.5 206.5,290.5 222.5,275.5 238.5,260.5 247.5,245.5 258.5,230.5 268.5,215.5 280.5,200.5 292.5,185.5 301.5,170.5 310.5,155.5 317.5,140.5 324.5,125.5 333.5,110.5 341.5,95.5 350.5,80.5"/>
<polyline points="157.5,365.5 161.5,350.5 167.5,335.5 175.5,320.5 180.5,305.5 186.5,290.5 191.5,275.5 195.5,260.5 199.5,245.5 211.5,230.5 227.5,215.5 246.5,200.5 260.5,185.5 282.5,170.5 303.5,155.5 322.5,140.5 336.5,125.5 347.5,110.5 359.5,95.5 373.5,80.5"/>
<polyline points="160.5,365.5 167.5,350.5 176.5,335.5 185.5,320.5 191.5,305.5 201.5,290.5 208.5,275.5 212.5,260.5 215.5,245.5 225.5,230.5 238.5,215.5 258.5,200.5 270.5,185.5 291.5,170.5 312.5,155.5 327.5,140.5 339.5,125.5 347.5,110.5 354.5,95.5 364.5,80.5"/>
<polyline points="100.5,365.5 120.5,350.5 139.5,335.5 156.5,320.5 170.5,305.5 184.5,290.5 200.5,275.5 211.5,260.5 223.5,245.5 236.5,230.5 249.5,215.5 256.5,200.5 262.5,185.5 273.5,170.5 283.5,155.5 294.5,140.5 306.5,125.5 319.5,110.5 334.5,95.5 345.5,80.5"/>
<polyline points="93.5,365.5 106.5,350.5 121.5,335.5 137.5,320.5 152.5,305.5 166.5,290.5 188.5,275.5 200.5,260.5 216.5,245.5 231.5,230.5 244.5,215.5 251.5,200.5 259.5,185.5 274.5,170.5 284.5,155.5 295.5,140.5 305.5,125.5 321.5,110.5 340.5,95.5 354.5,80.5"/>
<polyline points="94.5,365.5 113.5,350.5 138.5,335.5 157.5,320.5 171.5,305.5 187.5,290.5 205.5,275.5 215.5,260.5 228.5,245.5 242.5,230.5 255.5,215.5 263.5,200.5 270.5,185.5 282.5,170.5 291.5,155.5 301.5,140.5 309.5,125.5 321.5,110.5 336.5,95.5 345.5,80.5"/>
<polyline points="109.5,365.5 117.5,350.5 136.5,335.5 155.5,320.5 168.5,305.5 178.5,290.5 184.5,275.5 198.5,260.5 210.5,245.5 222.5,230.5 234.5,215.5 244.5,200.5 261.5,185.5 270.5,170.5 275.5,155.5 288.5,140.5 297.5,125.5 304.5,110.5 318.5,95.5 330.5,80.5"/>
<polyline points="112.5,365.5 119.5,350.5 133.5,335.5 145.5,320.5 155.5,305.5 162.5,290.5 167.5,275.5 180.5,260.5 191.5,245.5 201.5,230.5 215.5,215.5 227.5,200.5 245.5,185.5 254.5,170.5 260.5,155.5 274.5,140.5 284.5,125.5 292.5,110.5 310.5,95.5 326.5,80.5"/>
<polyline points="101.5,365.5 108.5,350.5 126.5,335.5 141.5,320.5 151.5,305.5 158.5,290.5 163.5,275.5 175.5,260.5 187.5,245.5 199.5,230.5 216.5,215.5 228.5,200.5 245.5,185.5 255.5,170.5 261.5,155.5 274.5,140.5 282.5,125.5 291.5,110.5 310.5,95.5 327.5,80.5"/>
<polyline points="125.5,365.5 131.5,350.5 138.5,335.5 146.5,320.5 153.5,305.5 160.5,290.5 166.5,275.5 171.5,260.5 177.5,245.5 187.5,230.5 201.5,215.5 217.5,200.5 231.5,185.5 240.5,170.5 252.5,155.5 263.5,140.5 275.5,125.5 291.5,110.5 307.5,95.5 324.5,80.5"/>
<polyline points="128.5,365.5 132.5,350.5 138.5,335.5 143.5,320.5 150.5,305.5 155.5,290.5 162.5,275.5 168.5,260.5 174.5,245.5 186.5,230.5 197.5,215.5 217.5,200.5 230.5,185.5 238.5,170.5 251.5,155.5 261.5,140.5 271.5,125.5 288.5,110.5 300.5,95.5 312.5,80.5"/>
<polyline points="155.5,365.5 167.5,350.5 176.5,335.5 181.5,320.5 187.5,305.5 200.5,290.5 216.5,275.5 229.5,260.5 247.5,245.5 261.5,230.5 275.5,215.5 283.5,200.5 292.5,185.5 303.5,170.5 310.5,155.5 316.5,140.5 325.5,125.5 334.5,110.5 342.5,95.5 350.5,80.5"/>
<polyline points="160.5,365.5 177.5,350.5 189.5,335.5 196.5,320.5 204.5,305.5 220.5,290.5 239.5,275.5 254.5,260.5 268.5,245.5 279.5,230.5 290.5,215.5 298.5,200.5 308.5,185.5 318.5,170.5 324.5,155.5 330.5,140.5 338.5,125.5 348.5,110.5 355.5,95.5 362.5,80.5"/>
<polyline points="152.5,365.5 162.5,350.5 168.5,335.5 180.5,320.5 191.5,305.5 201.5,290.5 211.5,275.5 218.5,260.5 223.5,245.5 234.5,230.5 249.5,215.5 256.5,200.5 270.5,185.5 281.5,170.5 289.5,155.5 297.5,140.5 305.5,125.5 311.5,110.5 316.5,95.5 323.5,80.5"/>
<polyline points="146.5,365.5 155.5,350.5 160.5,335.5 174.5,320.5 188.5,305.5 201.5,290.5 214.5,275.5 221.5,260.5 224.5,245.5 233.5,230.5 245.5,215.5 251.5,200.5 263.5,185.5 271.5,170.5 280.5,155.5 288.5,140.5 297.5,125.5 305.5,110.5 311.5,95.5 317.5,80.5"/>
<polyline points="142.5,365.5 151.5,350.5 158.5,335.5 172.5,320.5 183.5,305.5 192.5,290.5 204.5,275.5 210.5,260.5 216.5,245.5 227.5,230.5 241.5,215.5 249.5,200.5 263.5,185.5 274.5,170.5 284.5,155.5 293.5,140.5 301.5,125.5 309.5,110.5 316.5,95.5 323.5,80.5"/>
<polyline points="172.5,365.5 177.5,350.5 183.5,335.5 190.5,320.5 194.5,305.5 199.5,290.5 206.5,275.5 215.5,260.5 223.5,245.5 229.5,230.5 237.5,215.5 246.5,200.5 256.5,185.5 263.5,170.5 272.5,155.5 280.5,140.5 286.5,125.5 293.5,110.5 300.5,95.5 309.5,80.5"/>
<polyline points="166.5,365.5 182.5,350.5 192.5,335.5 201.5,320.5 205.5,305.5 210.5,290.5 217.5,275.5 225.5,260.5 231.5,245.5 235.5,230.5 242.5,215.5 250.5,200.5 261.5,185.5 269.5,170.5 277.5,155.5 288.5,140.5 294.5,125.5 299.5,110.5 305.5,95.5 313.5,80.5"/>
<polyline points="162.5,365.5 170.5,350.5 178.5,335.5 187.5,320.5 190.5,305.5 195.5,290.5 201.5,275.5 209.5,260.5 215.5,245.5 219.5,230.5 228.5,215.5 238.5,200.5 247.5,185.5 255.5,170.5 263.5,155.5 271.5,140.5 277.5,125.5 283.5,110.5 289.5,95.5 296.5,80.5"/>
<polyline points="133.5,365.5 173.5,350.5 191.5,335.5 206.5,320.5 221.5,305.5 235.5,290.5 255.5,275.5 266.5,260.5 279.5,245.5 288.5,230.5 294.5,215.5 299.5,200.5 304.5,185.5 307.5,170.5 311.5,155.5 316.5,140.5 321.5,125.5 325.5,110.5 332.5,95.5 337.5,80.5"/>
<polyline points="134.5,365.5 173.5,350.5 193.5,335.5 206.5,320.5 222.5,305.5 238.5,290.5 263.5,275.5 276.5,260.5 291.5,245.5 300.5,230.5 307.5,215.5 313.5,200.5 318.5,185.5 321.5,170.5 325.5,155.5 329.5,140.5 334.5,125.5 338.5,110.5 344.5,95.5 350.5,80.5"/>
<polyline points="160.5,365.5 176.5,350.5 185.5,335.5 197.5,320.5 209.5,305.5 220.5,290.5 230.5,275.5 244.5,260.5 259.5,245.5 274.5,230.5 291.5,215.5 303.5,200.5 320.5,185.5 338.5,170.5 353.5,155.5 372.5,140.5 387.5,125.5 407.5,110.5 422.5,95.5 442.5,80.5"/>
<polyline points="153.5,365.5 172.5,350.5 184.5,335.5 196.5,320.5 208.5,305.5 222.5,290.5 236.5,275.5 256.5,260.5 272.5,245.5 287.5,230.5 303.5,215.5 313.5,200.5 328.5,185.5 345.5,170.5 359.5,155.5 381.5,140.5 395.5,125.5 413.5,110.5 425.5,95.5 441.5,80.5"/>
<polyline points="156.5,365.5 175.5,350.5 185.5,335.5 199.5,320.5 210.5,305.5 224.5,290.5 235.5,275.5 251.5,260.5 262.5,245.5 274.5,230.5 289.5,215.5 301.5,200.5 317.5,185.5 338.5,170.5 355.5,155.5 374.5,140.5 389.5,125.5 411.5,110.5 425.5,95.5 443.5,80.5"/>
<polyline points="152.5,365.5 175.5,350.5 190.5,335.5 206.5,320.5 218.5,305.5 233.5,290.5 246.5,275.5 267.5,260.5 282.5,245.5 295.5,230.5 311.5,215.5 324.5,200.5 341.5,185.5 359.5,170.5 375.5,155.5 391.5,140.5 403.5,125.5 417.5,110.5 430.5,95.5 449.5,80.5"/>
<polyline points="118.5,365.5 125.5,350.5 132.5,335.5 137.5,320.5 144.5,305.5 158.5,290.5 172.5,275.5 185.5,260.5 193.5,245.5 201.5,230.5 210.5,215.5 230.5,200.5 246.5,185.5 263.5,170.5 285.5,155.5 309.5,140.5 334.5,125.5 372.5,110.5 421.5,95.5 455.5,80.5"/>
<polyline points="111.5,365.5 117.5,350.5 124.5,335.5 128.5,320.5 136.5,305.5 146.5,290.5 159.5,275.5 170.5,260.5 177.5,245.5 185.5,230.5 193.5,215.5 214.5,200.5 233.5,185.5 253.5,170.5 275.5,155.5 303.5,140.5 335.5,125.5 371.5,110.5 422.5,95.5 462.5,80.5"/>
<polyline points="161.5,365.5 178.5,350.5 196.5,335.5 203.5,320.5 213.5,305.5 225.5,290.5 235.5,275.5 248.5,260.5 260.5,245.5 279.5,230.5 289.5,215.5 302.5,200.5 312.5,185.5 320.5,170.5 335.5,155.5 348.5,140.5 368.5,125.5 379.5,110.5 393.5,95.5 402.5,80.5"/>
<polyline points="151.5,365.5 170.5,350.5 192.5,335.5 213.5,320.5 242.5,305.5 263.5,290.5 287.5,275.5 303.5,260.5 316.5,245.5 330.5,230.5 345.5,215.5 362.5,200.5 375.5,185.5 388.5,170.5 406.5,155.5 430.5,140.5 444.5,125.5 453.5,110.5 468.5,95.5 484.5,80.5"/>
<polyline points="151.5,365.5 172.5,350.5 204.5,335.5 232.5,320.5 262.5,305.5 283.5,290.5 304.5,275.5 314.5,260.5 324.5,245.5 337.5,230.5 350.5,215.5 365.5,200.5 379.5,185.5 394.5,170.5 411.5,155.5 432.5,140.5 444.5,125.5 453.5,110.5 466.5,95.5 480.5,80.5"/>
<polyline points="154.5,365.5 171.5,350.5 194.5,335.5 219.5,320.5 248.5,305.5 266.5,290.5 285.5,275.5 299.5,260.5 311.5,245.5 325.5,230.5 338.5,215.5 352.5,200.5 369.5,185.5 387.5,170.5 411.5,155.5 434.5,140.5 449.5,125.5 460.5,110.5 475.5,95.5 492.5,80.5"/>
<polyline points="124.5,365.5 131.5,350.5 145.5,335.5 155.5,320.5 166.5,305.5 181.5,290.5 192.5,275.5 203.5,260.5 214.5,245.5 228.5,230.5 245.5,215.5 270.5,200.5 287.5,185.5 301.5,170.5 314.5,155.5 331.5,140.5 356.5,125.5 377.5,110.5 404.5,95.5 421.5,80.5"/>
<polyline points="124.5,365.5 132.5,350.5 146.5,335.5 155.5,320.5 165.5,305.5 181.5,290.5 192.5,275.5 204.5,260.5 213.5,245.5 226.5,230.5 240.5,215.5 262.5,200.5 278.5,185.5 293.5,170.5 306.5,155.5 322.5,140.5 348.5,125.5 375.5,110.5 403.5,95.5 421.5,80.5"/>
<polyline points="130.5,365.5 137.5,350.5 149.5,335.5 157.5,320.5 168.5,305.5 184.5,290.5 198.5,275.5 209.5,260.5 220.5,245.5 232.5,230.5 248.5,215.5 271.5,200.5 286.5,185.5 300.5,170.5 312.5,155.5 328.5,140.5 352.5,125.5 380.5,110.5 410.5,95.5 428.5,80.5"/>
<polyline points="142.5,365.5 174.5,350.5 193.5,335.5 207.5,320.5 221.5,305.5 240.5,290.5 254.5,275.5 271.5,260.5 287.5,245.5 295.5,230.5 304.5,215.5 313.5,200.5 331.5,185.5 354.5,170.5 363.5,155.5 372.5,140.5 389.5,125.5 409.5,110.5 423.5,95.5 441.5,80.5"/>
<polyline points="119.5,365.5 142.5,350.5 177.5,335.5 202.5,320.5 217.5,305.5 228.5,290.5 242.5,275.5 257.5,260.5 272.5,245.5 284.5,230.5 299.5,215.5 317.5,200.5 342.5,185.5 362.5,170.5 391.5,155.5 411.5,140.5 436.5,125.5 453.5,110.5 475.5,95.5 499.5,80.5"/>
<polyline points="126.5,365.5 156.5,350.5 190.5,335.5 218.5,320.5 239.5,305.5 255.5,290.5 274.5,275.5 289.5,260.5 307.5,245.5 320.5,230.5 334.5,215.5 349.5,200.5 371.5,185.5 389.5,170.5 412.5,155.5 429.5,140.5 447.5,125.5 462.5,110.5 479.5,95.5 501.5,80.5"/>
<polyline points="132.5,365.5 151.5,350.5 162.5,335.5 179.5,320.5 201.5,305.5 222.5,290.5 240.5,275.5 262.5,260.5 279.5,245.5 294.5,230.5 308.5,215.5 323.5,200.5 350.5,185.5 367.5,170.5 379.5,155.5 390.5,140.5 401.5,125.5 409.5,110.5 421.5,95.5 435.5,80.5"/>
<polyline points="136.5,365.5 151.5,350.5 164.5,335.5 179.5,320.5 193.5,305.5 211.5,290.5 229.5,275.5 250.5,260.5 261.5,245.5 271.5,230.5 286.5,215.5 301.5,200.5 315.5,185.5 329.5,170.5 352.5,155.5 364.5,140.5 377.5,125.5 388.5,110.5 398.5,95.5 410.5,80.5"/>
<polyline points="131.5,365.5 145.5,350.5 158.5,335.5 171.5,320.5 182.5,305.5 196.5,290.5 210.5,275.5 232.5,260.5 242.5,245.5 252.5,230.5 264.5,215.5 279.5,200.5 293.5,185.5 313.5,170.5 338.5,155.5 351.5,140.5 363.5,125.5 382.5,110.5 400.5,95.5 418.5,80.5"/>
<polyline points="135.5,365.5 152.5,350.5 165.5,335.5 179.5,320.5 193.5,305.5 212.5,290.5 229.5,275.5 249.5,260.5 259.5,245.5 268.5,230.5 279.5,215.5 293.5,200.5 305.5,185.5 322.5,170.5 342.5,155.5 354.5,140.5 367.5,125.5 381.5,110.5 397.5,95.5 412.5,80.5"/>
<polyline points="143.5,365.5 156.5,350.5 166.5,335.5 177.5,320.5 188.5,305.5 200.5,290.5 213.5,275.5 233.5,260.5 242.5,245.5 250.5,230.5 263.5,215.5 278.5,200.5 292.5,185.5 309.5,170.5 334.5,155.5 351.5,140.5 367.5,125.5 385.5,110.5 402.5,95.5 420.5,80.5"/>
<polyline points="138.5,365.5 168.5,350.5 193.5,335.5 207.5,320.5 225.5,305.5 239.5,290.5 249.5,275.5 262.5,260.5 278.5,245.5 298.5,230.5 319.5,215.5 333.5,200.5 352.5,185.5 367.5,170.5 382.5,155.5 395.5,140.5 411.5,125.5 422.5,110.5 434.5,95.5 445.5,80.5"/>
<polyline points="120.5,365.5 146.5,350.5 171.5,335.5 187.5,320.5 199.5,305.5 210.5,290.5 216.5,275.5 225.5,260.5 241.5,245.5 252.5,230.5 266.5,215.5 282.5,200.5 294.5,185.5 319.5,170.5 330.5,155.5 345.5,140.5 370.5,125.5 387.5,110.5 403.5,95.5 416.5,80.5"/>
<polyline points="118.5,365.5 148.5,350.5 176.5,335.5 191.5,320.5 204.5,305.5 218.5,290.5 225.5,275.5 233.5,260.5 248.5,245.5 258.5,230.5 273.5,215.5 288.5,200.5 299.5,185.5 321.5,170.5 332.5,155.5 345.5,140.5 366.5,125.5 376.5,110.5 387.5,95.5 396.5,80.5"/>
<polyline points="128.5,365.5 154.5,350.5 180.5,335.5 198.5,320.5 210.5,305.5 224.5,290.5 230.5,275.5 239.5,260.5 255.5,245.5 265.5,230.5 278.5,215.5 289.5,200.5 300.5,185.5 321.5,170.5 332.5,155.5 346.5,140.5 367.5,125.5 378.5,110.5 388.5,95.5 397.5,80.5"/>
<polyline points="142.5,365.5 154.5,350.5 161.5,335.5 167.5,320.5 176.5,305.5 184.5,290.5 192.5,275.5 199.5,260.5 208.5,245.5 219.5,230.5 231.5,215.5 243.5,200.5 258.5,185.5 274.5,170.5 295.5,155.5 316.5,140.5 342.5,125.5 365.5,110.5 404.5,95.5 432.5,80.5"/>
<polyline points="144.5,365.5 159.5,350.5 165.5,335.5 172.5,320.5 185.5,305.5 195.5,290.5 204.5,275.5 212.5,260.5 222.5,245.5 233.5,230.5 245.5,215.5 258.5,200.5 273.5,185.5 288.5,170.5 305.5,155.5 325.5,140.5 347.5,125.5 367.5,110.5 399.5,95.5 427.5,80.5"/>
<polyline points="135.5,365.5 151.5,350.5 160.5,335.5 169.5,320.5 182.5,305.5 192.5,290.5 202.5,275.5 209.5,260.5 219.5,245.5 228.5,230.5 240.5,215.5 252.5,200.5 266.5,185.5 282.5,170.5 300.5,155.5 323.5,140.5 348.5,125.5 367.5,110.5 399.5,95.5 422.5,80.5"/>
<polyline points="135.5,365.5 169.5,350.5 193.5,335.5 214.5,320.5 236.5,305.5 249.5,290.5 273.5,275.5 288.5,260.5 300.5,245.5 311.5,230.5 320.5,215.5 330.5,200.5 337.5,185.5 344.5,170.5 353.5,155.5 362.5,140.5 371.5,125.5 381.5,110.5 389.5,95.5 399.5,80.5"/>
<polyline points="142.5,365.5 174.5,350.5 195.5,335.5 214.5,320.5 231.5,305.5 242.5,290.5 265.5,275.5 277.5,260.5 289.5,245.5 301.5,230.5 311.5,215.5 320.5,200.5 328.5,185.5 337.5,170.5 347.5,155.5 357.5,140.5 368.5,125.5 379.5,110.5 387.5,95.5 396.5,80.5"/>
<polyline points="129.5,365.5 158.5,350.5 180.5,335.5 198.5,320.5 214.5,305.5 224.5,290.5 244.5,275.5 259.5,260.5 270.5,245.5 282.5,230.5 292.5,215.5 304.5,200.5 313.5,185.5 322.5,170.5 334.5,155.5 348.5,140.5 362.5,125.5 375.5,110.5 385.5,95.5 396.5,80.5"/>
<polyline points="135.5,365.5 175.5,350.5 202.5,335.5 225.5,320.5 247.5,305.5 258.5,290.5 278.5,275.5 289.5,260.5 299.5,245.5 309.5,230.5 318.5,215.5 328.5,200.5 334.5,185.5 341.5,170.5 351.5,155.5 361.5,140.5 370.5,125.5 380.5,110.5 387.5,95.5 396.5,80.5"/>
<polyline points="142.5,365.5 178.5,350.5 199.5,335.5 221.5,320.5 238.5,305.5 249.5,290.5 269.5,275.5 282.5,260.5 293.5,245.5 303.5,230.5 310.5,215.5 320.5,200.5 327.5,185.5 334.5,170.5 344.5,155.5 353.5,140.5 364.5,125.5 377.5,110.5 388.5,95.5 397.5,80.5"/>
<polyline points="102.5,365.5 140.5,350.5 170.5,335.5 200.5,320.5 222.5,305.5 233.5,290.5 242.5,275.5 252.5,260.5 263.5,245.5 275.5,230.5 285.5,215.5 298.5,200.5 310.5,185.5 321.5,170.5 332.5,155.5 343.5,140.5 356.5,125.5 366.5,110.5 377.5,95.5 390.5,80.5"/>
<polyline points="117.5,365.5 149.5,350.5 175.5,335.5 199.5,320.5 223.5,305.5 237.5,290.5 247.5,275.5 257.5,260.5 266.5,245.5 277.5,230.5 286.5,215.5 298.5,200.5 311.5,185.5 321.5,170.5 331.5,155.5 340.5,140.5 350.5,125.5 360.5,110.5 371.5,95.5 382.5,80.5"/>
<polyline points="103.5,365.5 145.5,350.5 175.5,335.5 205.5,320.5 227.5,305.5 240.5,290.5 249.5,275.5 260.5,260.5 269.5,245.5 280.5,230.5 288.5,215.5 299.5,200.5 309.5,185.5 319.5,170.5 331.5,155.5 339.5,140.5 347.5,125.5 356.5,110.5 366.5,95.5 378.5,80.5"/>
<polyline points="118.5,365.5 156.5,350.5 183.5,335.5 209.5,320.5 228.5,305.5 238.5,290.5 248.5,275.5 258.5,260.5 267.5,245.5 278.5,230.5 287.5,215.5 299.5,200.5 309.5,185.5 321.5,170.5 333.5,155.5 342.5,140.5 351.5,125.5 360.5,110.5 371.5,95.5 383.5,80.5"/>
<polyline points="99.5,365.5 134.5,350.5 161.5,335.5 194.5,320.5 216.5,305.5 229.5,290.5 239.5,275.5 251.5,260.5 259.5,245.5 270.5,230.5 279.5,215.5 292.5,200.5 306.5,185.5 318.5,170.5 328.5,155.5 337.5,140.5 346.5,125.5 355.5,110.5 367.5,95.5 378.5,80.5"/>
<polyline points="102.5,365.5 133.5,350.5 162.5,335.5 199.5,320.5 235.5,305.5 252.5,290.5 272.5,275.5 286.5,260.5 298.5,245.5 308.5,230.5 322.5,215.5 336.5,200.5 346.5,185.5 353.5,170.5 360.5,155.5 366.5,140.5 375.5,125.5 383.5,110.5 394.5,95.5 403.5,80.5"/>
<polyline points="106.5,365.5 138.5,350.5 167.5,335.5 203.5,320.5 236.5,305.5 249.5,290.5 269.5,275.5 282.5,260.5 294.5,245.5 308.5,230.5 326.5,215.5 340.5,200.5 350.5,185.5 357.5,170.5 364.5,155.5 371.5,140.5 380.5,125.5 388.5,110.5 400.5,95.5 409.5,80.5"/>
<polyline points="99.5,365.5 130.5,350.5 160.5,335.5 194.5,320.5 222.5,305.5 236.5,290.5 257.5,275.5 274.5,260.5 286.5,245.5 299.5,230.5 318.5,215.5 332.5,200.5 341.5,185.5 349.5,170.5 357.5,155.5 363.5,140.5 372.5,125.5 382.5,110.5 396.5,95.5 406.5,80.5"/>
<polyline points="99.5,365.5 132.5,350.5 163.5,335.5 200.5,320.5 232.5,305.5 247.5,290.5 269.5,275.5 285.5,260.5 296.5,245.5 309.5,230.5 324.5,215.5 337.5,200.5 347.5,185.5 355.5,170.5 364.5,155.5 370.5,140.5 379.5,125.5 389.5,110.5 400.5,95.5 409.5,80.5"/>
<polyline points="128.5,365.5 159.5,350.5 184.5,335.5 217.5,320.5 246.5,305.5 261.5,290.5 279.5,275.5 294.5,260.5 303.5,245.5 313.5,230.5 326.5,215.5 340.5,200.5 348.5,185.5 354.5,170.5 361.5,155.5 366.5,140.5 375.5,125.5 383.5,110.5 395.5,95.5 405.5,80.5"/>
<polyline points="131.5,365.5 161.5,350.5 187.5,335.5 218.5,320.5 248.5,305.5 261.5,290.5 279.5,275.5 293.5,260.5 304.5,245.5 314.5,230.5 328.5,215.5 338.5,200.5 347.5,185.5 353.5,170.5 359.5,155.5 366.5,140.5 374.5,125.5 384.5,110.5 396.5,95.5 406.5,80.5"/>
<polyline points="99.5,365.5 134.5,350.5 163.5,335.5 189.5,320.5 209.5,305.5 229.5,290.5 245.5,275.5 259.5,260.5 270.5,245.5 280.5,230.5 293.5,215.5 310.5,200.5 323.5,185.5 336.5,170.5 344.5,155.5 356.5,140.5 366.5,125.5 376.5,110.5 385.5,95.5 392.5,80.5"/>
<polyline points="99.5,365.5 136.5,350.5 166.5,335.5 196.5,320.5 220.5,305.5 243.5,290.5 261.5,275.5 275.5,260.5 284.5,245.5 292.5,230.5 304.5,215.5 317.5,200.5 328.5,185.5 338.5,170.5 347.5,155.5 359.5,140.5 370.5,125.5 382.5,110.5 390.5,95.5 398.5,80.5"/>
<polyline points="99.5,365.5 131.5,350.5 162.5,335.5 190.5,320.5 214.5,305.5 240.5,290.5 258.5,275.5 273.5,260.5 283.5,245.5 291.5,230.5 300.5,215.5 313.5,200.5 324.5,185.5 335.5,170.5 344.5,155.5 355.5,140.5 367.5,125.5 378.5,110.5 387.5,95.5 395.5,80.5"/>
<polyline points="117.5,365.5 145.5,350.5 171.5,335.5 197.5,320.5 218.5,305.5 238.5,290.5 257.5,275.5 273.5,260.5 286.5,245.5 297.5,230.5 309.5,215.5 323.5,200.5 335.5,185.5 346.5,170.5 354.5,155.5 364.5,140.5 374.5,125.5 385.5,110.5 393.5,95.5 400.5,80.5"/>
<polyline points="112.5,365.5 147.5,350.5 180.5,335.5 207.5,320.5 226.5,305.5 245.5,290.5 260.5,275.5 274.5,260.5 284.5,245.5 294.5,230.5 305.5,215.5 318.5,200.5 330.5,185.5 342.5,170.5 350.5,155.5 362.5,140.5 372.5,125.5 384.5,110.5 393.5,95.5 402.5,80.5"/>
<polyline points="113.5,365.5 152.5,350.5 185.5,335.5 209.5,320.5 225.5,305.5 245.5,290.5 261.5,275.5 277.5,260.5 286.5,245.5 297.5,230.5 308.5,215.5 321.5,200.5 333.5,185.5 344.5,170.5 351.5,155.5 363.5,140.5 374.5,125.5 386.5,110.5 394.5,95.5 401.5,80.5"/>
<polyline points="119.5,365.5 139.5,350.5 161.5,335.5 184.5,320.5 204.5,305.5 228.5,290.5 246.5,275.5 258.5,260.5 271.5,245.5 280.5,230.5 290.5,215.5 299.5,200.5 306.5,185.5 315.5,170.5 322.5,155.5 334.5,140.5 345.5,125.5 353.5,110.5 362.5,95.5 370.5,80.5"/>
<polyline points="144.5,365.5 164.5,350.5 186.5,335.5 208.5,320.5 225.5,305.5 249.5,290.5 266.5,275.5 280.5,260.5 291.5,245.5 299.5,230.5 308.5,215.5 315.5,200.5 321.5,185.5 330.5,170.5 337.5,155.5 347.5,140.5 354.5,125.5 361.5,110.5 370.5,95.5 378.5,80.5"/>
<polyline points="143.5,365.5 170.5,350.5 203.5,335.5 228.5,320.5 247.5,305.5 270.5,290.5 285.5,275.5 296.5,260.5 304.5,245.5 311.5,230.5 318.5,215.5 324.5,200.5 329.5,185.5 336.5,170.5 342.5,155.5 349.5,140.5 356.5,125.5 361.5,110.5 368.5,95.5 374.5,80.5"/>
<polyline points="174.5,365.5 193.5,350.5 215.5,335.5 236.5,320.5 252.5,305.5 272.5,290.5 286.5,275.5 296.5,260.5 305.5,245.5 312.5,230.5 320.5,215.5 326.5,200.5 332.5,185.5 341.5,170.5 348.5,155.5 356.5,140.5 364.5,125.5 370.5,110.5 377.5,95.5 384.5,80.5"/>
<polyline points="132.5,365.5 175.5,350.5 197.5,335.5 215.5,320.5 232.5,305.5 247.5,290.5 258.5,275.5 269.5,260.5 280.5,245.5 293.5,230.5 309.5,215.5 320.5,200.5 332.5,185.5 344.5,170.5 362.5,155.5 377.5,140.5 391.5,125.5 402.5,110.5 413.5,95.5 421.5,80.5"/>
<polyline points="106.5,365.5 151.5,350.5 172.5,335.5 193.5,320.5 209.5,305.5 225.5,290.5 236.5,275.5 249.5,260.5 263.5,245.5 276.5,230.5 291.5,215.5 303.5,200.5 316.5,185.5 331.5,170.5 355.5,155.5 373.5,140.5 389.5,125.5 402.5,110.5 412.5,95.5 422.5,80.5"/>
<polyline points="139.5,365.5 177.5,350.5 196.5,335.5 213.5,320.5 228.5,305.5 241.5,290.5 251.5,275.5 263.5,260.5 277.5,245.5 288.5,230.5 302.5,215.5 313.5,200.5 325.5,185.5 337.5,170.5 354.5,155.5 370.5,140.5 384.5,125.5 400.5,110.5 411.5,95.5 422.5,80.5"/>
<polyline points="139.5,365.5 182.5,350.5 200.5,335.5 218.5,320.5 234.5,305.5 248.5,290.5 257.5,275.5 270.5,260.5 281.5,245.5 294.5,230.5 312.5,215.5 325.5,200.5 336.5,185.5 349.5,170.5 366.5,155.5 382.5,140.5 396.5,125.5 407.5,110.5 417.5,95.5 427.5,80.5"/>
<polyline points="108.5,365.5 149.5,350.5 170.5,335.5 186.5,320.5 203.5,305.5 216.5,290.5 226.5,275.5 238.5,260.5 252.5,245.5 265.5,230.5 281.5,215.5 295.5,200.5 308.5,185.5 321.5,170.5 341.5,155.5 360.5,140.5 377.5,125.5 393.5,110.5 406.5,95.5 418.5,80.5"/>
<polyline points="152.5,365.5 191.5,350.5 211.5,335.5 228.5,320.5 244.5,305.5 257.5,290.5 267.5,275.5 278.5,260.5 289.5,245.5 301.5,230.5 314.5,215.5 325.5,200.5 336.5,185.5 348.5,170.5 364.5,155.5 381.5,140.5 394.5,125.5 405.5,110.5 414.5,95.5 424.5,80.5"/>
<polyline points="110.5,365.5 148.5,350.5 169.5,335.5 187.5,320.5 205.5,305.5 220.5,290.5 232.5,275.5 245.5,260.5 260.5,245.5 271.5,230.5 289.5,215.5 302.5,200.5 316.5,185.5 333.5,170.5 354.5,155.5 371.5,140.5 383.5,125.5 396.5,110.5 407.5,95.5 417.5,80.5"/>
<polyline points="144.5,365.5 198.5,350.5 226.5,335.5 243.5,320.5 260.5,305.5 273.5,290.5 288.5,275.5 306.5,260.5 331.5,245.5 348.5,230.5 362.5,215.5 373.5,200.5 388.5,185.5 398.5,170.5 407.5,155.5 417.5,140.5 426.5,125.5 435.5,110.5 442.5,95.5 450.5,80.5"/>
<polyline points="164.5,365.5 207.5,350.5 232.5,335.5 247.5,320.5 264.5,305.5 278.5,290.5 294.5,275.5 312.5,260.5 335.5,245.5 351.5,230.5 366.5,215.5 378.5,200.5 390.5,185.5 399.5,170.5 407.5,155.5 417.5,140.5 425.5,125.5 433.5,110.5 440.5,95.5 446.5,80.5"/>
<polyline points="159.5,365.5 202.5,350.5 229.5,335.5 245.5,320.5 262.5,305.5 279.5,290.5 294.5,275.5 311.5,260.5 336.5,245.5 356.5,230.5 371.5,215.5 382.5,200.5 393.5,185.5 402.5,170.5 411.5,155.5 420.5,140.5 428.5,125.5 436.5,110.5 443.5,95.5 450.5,80.5"/>
<polyline points="144.5,365.5 183.5,350.5 210.5,335.5 229.5,320.5 248.5,305.5 265.5,290.5 281.5,275.5 300.5,260.5 322.5,245.5 338.5,230.5 352.5,215.5 364.5,200.5 381.5,185.5 392.5,170.5 401.5,155.5 411.5,140.5 422.5,125.5 431.5,110.5 438.5,95.5 446.5,80.5"/>
<polyline points="135.5,365.5 174.5,350.5 203.5,335.5 223.5,320.5 242.5,305.5 258.5,290.5 274.5,275.5 293.5,260.5 316.5,245.5 335.5,230.5 353.5,215.5 368.5,200.5 382.5,185.5 393.5,170.5 402.5,155.5 412.5,140.5 421.5,125.5 431.5,110.5 439.5,95.5 447.5,80.5"/>
<polyline points="143.5,365.5 189.5,350.5 217.5,335.5 235.5,320.5 253.5,305.5 270.5,290.5 284.5,275.5 301.5,260.5 322.5,245.5 342.5,230.5 358.5,215.5 372.5,200.5 387.5,185.5 398.5,170.5 408.5,155.5 418.5,140.5 427.5,125.5 436.5,110.5 444.5,95.5 452.5,80.5"/>
<polyline points="143.5,365.5 188.5,350.5 214.5,335.5 235.5,320.5 254.5,305.5 271.5,290.5 287.5,275.5 303.5,260.5 325.5,245.5 344.5,230.5 360.5,215.5 374.5,200.5 389.5,185.5 399.5,170.5 409.5,155.5 419.5,140.5 429.5,125.5 439.5,110.5 447.5,95.5 455.5,80.5"/>
<polyline points="162.5,365.5 184.5,350.5 210.5,335.5 238.5,320.5 261.5,305.5 281.5,290.5 299.5,275.5 315.5,260.5 331.5,245.5 346.5,230.5 357.5,215.5 374.5,200.5 391.5,185.5 404.5,170.5 414.5,155.5 419.5,140.5 427.5,125.5 434.5,110.5 440.5,95.5 452.5,80.5"/>
<polyline points="138.5,365.5 170.5,350.5 201.5,335.5 234.5,320.5 258.5,305.5 282.5,290.5 299.5,275.5 314.5,260.5 329.5,245.5 345.5,230.5 356.5,215.5 371.5,200.5 388.5,185.5 402.5,170.5 412.5,155.5 418.5,140.5 425.5,125.5 432.5,110.5 437.5,95.5 447.5,80.5"/>
<polyline points="125.5,365.5 153.5,350.5 183.5,335.5 212.5,320.5 234.5,305.5 255.5,290.5 272.5,275.5 289.5,260.5 305.5,245.5 323.5,230.5 337.5,215.5 355.5,200.5 374.5,185.5 391.5,170.5 406.5,155.5 414.5,140.5 423.5,125.5 431.5,110.5 440.5,95.5 453.5,80.5"/>
<polyline points="157.5,365.5 183.5,350.5 209.5,335.5 234.5,320.5 258.5,305.5 281.5,290.5 299.5,275.5 318.5,260.5 335.5,245.5 352.5,230.5 363.5,215.5 379.5,200.5 395.5,185.5 408.5,170.5 419.5,155.5 425.5,140.5 432.5,125.5 438.5,110.5 444.5,95.5 453.5,80.5"/>
<polyline points="131.5,365.5 162.5,350.5 194.5,335.5 225.5,320.5 249.5,305.5 274.5,290.5 294.5,275.5 313.5,260.5 330.5,245.5 346.5,230.5 357.5,215.5 373.5,200.5 390.5,185.5 407.5,170.5 418.5,155.5 424.5,140.5 432.5,125.5 439.5,110.5 445.5,95.5 456.5,80.5"/>
<polyline points="134.5,365.5 170.5,350.5 193.5,335.5 216.5,320.5 236.5,305.5 252.5,290.5 269.5,275.5 283.5,260.5 298.5,245.5 310.5,230.5 325.5,215.5 339.5,200.5 354.5,185.5 372.5,170.5 379.5,155.5 386.5,140.5 394.5,125.5 401.5,110.5 406.5,95.5 414.5,80.5"/>
<polyline points="164.5,365.5 188.5,350.5 206.5,335.5 225.5,320.5 241.5,305.5 254.5,290.5 268.5,275.5 283.5,260.5 299.5,245.5 311.5,230.5 325.5,215.5 339.5,200.5 353.5,185.5 367.5,170.5 374.5,155.5 382.5,140.5 390.5,125.5 397.5,110.5 404.5,95.5 411.5,80.5"/>
<polyline points="106.5,365.5 144.5,350.5 169.5,335.5 192.5,320.5 212.5,305.5 233.5,290.5 253.5,275.5 275.5,260.5 291.5,245.5 307.5,230.5 321.5,215.5 338.5,200.5 356.5,185.5 372.5,170.5 382.5,155.5 391.5,140.5 401.5,125.5 411.5,110.5 420.5,95.5 427.5,80.5"/>
<polyline points="106.5,365.5 147.5,350.5 172.5,335.5 193.5,320.5 214.5,305.5 230.5,290.5 247.5,275.5 267.5,260.5 286.5,245.5 304.5,230.5 318.5,215.5 334.5,200.5 351.5,185.5 368.5,170.5 380.5,155.5 395.5,140.5 406.5,125.5 419.5,110.5 430.5,95.5 441.5,80.5"/>
<polyline points="124.5,365.5 155.5,350.5 179.5,335.5 197.5,320.5 216.5,305.5 235.5,290.5 253.5,275.5 275.5,260.5 288.5,245.5 304.5,230.5 316.5,215.5 333.5,200.5 351.5,185.5 369.5,170.5 379.5,155.5 391.5,140.5 401.5,125.5 411.5,110.5 420.5,95.5 429.5,80.5"/>
<polyline points="127.5,365.5 160.5,350.5 183.5,335.5 202.5,320.5 219.5,305.5 239.5,290.5 257.5,275.5 275.5,260.5 288.5,245.5 304.5,230.5 317.5,215.5 334.5,200.5 353.5,185.5 371.5,170.5 382.5,155.5 394.5,140.5 405.5,125.5 417.5,110.5 428.5,95.5 438.5,80.5"/>
<polyline points="177.5,365.5 210.5,350.5 226.5,335.5 243.5,320.5 258.5,305.5 273.5,290.5 290.5,275.5 303.5,260.5 316.5,245.5 326.5,230.5 339.5,215.5 351.5,200.5 365.5,185.5 374.5,170.5 382.5,155.5 388.5,140.5 396.5,125.5 405.5,110.5 412.5,95.5 422.5,80.5"/>
<polyline points="143.5,365.5 183.5,350.5 209.5,335.5 227.5,320.5 242.5,305.5 258.5,290.5 272.5,275.5 288.5,260.5 302.5,245.5 310.5,230.5 323.5,215.5 338.5,200.5 352.5,185.5 364.5,170.5 371.5,155.5 378.5,140.5 388.5,125.5 399.5,110.5 407.5,95.5 415.5,80.5"/>
<polyline points="136.5,365.5 181.5,350.5 202.5,335.5 221.5,320.5 235.5,305.5 253.5,290.5 270.5,275.5 283.5,260.5 296.5,245.5 307.5,230.5 323.5,215.5 337.5,200.5 353.5,185.5 363.5,170.5 371.5,155.5 379.5,140.5 389.5,125.5 400.5,110.5 409.5,95.5 418.5,80.5"/>
<polyline points="106.5,365.5 152.5,350.5 177.5,335.5 196.5,320.5 225.5,305.5 248.5,290.5 266.5,275.5 284.5,260.5 303.5,245.5 322.5,230.5 336.5,215.5 352.5,200.5 361.5,185.5 371.5,170.5 381.5,155.5 389.5,140.5 398.5,125.5 407.5,110.5 416.5,95.5 429.5,80.5"/>
<polyline points="131.5,365.5 172.5,350.5 197.5,335.5 213.5,320.5 237.5,305.5 257.5,290.5 275.5,275.5 294.5,260.5 311.5,245.5 331.5,230.5 343.5,215.5 358.5,200.5 366.5,185.5 375.5,170.5 383.5,155.5 392.5,140.5 401.5,125.5 410.5,110.5 418.5,95.5 430.5,80.5"/>
<polyline points="121.5,365.5 164.5,350.5 186.5,335.5 203.5,320.5 229.5,305.5 245.5,290.5 262.5,275.5 280.5,260.5 298.5,245.5 321.5,230.5 335.5,215.5 351.5,200.5 361.5,185.5 369.5,170.5 378.5,155.5 387.5,140.5 398.5,125.5 407.5,110.5 414.5,95.5 424.5,80.5"/>
<polyline points="109.5,365.5 152.5,350.5 181.5,335.5 200.5,320.5 223.5,305.5 239.5,290.5 260.5,275.5 281.5,260.5 305.5,245.5 330.5,230.5 349.5,215.5 371.5,200.5 391.5,185.5 402.5,170.5 414.5,155.5 422.5,140.5 429.5,125.5 440.5,110.5 445.5,95.5 454.5,80.5"/>
<polyline points="109.5,365.5 150.5,350.5 174.5,335.5 191.5,320.5 211.5,305.5 227.5,290.5 249.5,275.5 274.5,260.5 300.5,245.5 324.5,230.5 340.5,215.5 358.5,200.5 378.5,185.5 391.5,170.5 405.5,155.5 418.5,140.5 427.5,125.5 441.5,110.5 449.5,95.5 460.5,80.5"/>
<polyline points="109.5,365.5 157.5,350.5 187.5,335.5 206.5,320.5 225.5,305.5 239.5,290.5 263.5,275.5 288.5,260.5 312.5,245.5 335.5,230.5 356.5,215.5 375.5,200.5 393.5,185.5 403.5,170.5 413.5,155.5 424.5,140.5 431.5,125.5 441.5,110.5 447.5,95.5 454.5,80.5"/>
<polyline points="109.5,365.5 143.5,350.5 172.5,335.5 193.5,320.5 211.5,305.5 229.5,290.5 250.5,275.5 274.5,260.5 297.5,245.5 319.5,230.5 339.5,215.5 362.5,200.5 385.5,185.5 398.5,170.5 409.5,155.5 419.5,140.5 427.5,125.5 438.5,110.5 444.5,95.5 453.5,80.5"/>
<polyline points="154.5,365.5 216.5,350.5 247.5,335.5 261.5,320.5 279.5,305.5 293.5,290.5 308.5,275.5 325.5,260.5 342.5,245.5 358.5,230.5 370.5,215.5 383.5,200.5 394.5,185.5 405.5,170.5 415.5,155.5 425.5,140.5 439.5,125.5 450.5,110.5 460.5,95.5 470.5,80.5"/>
<polyline points="152.5,365.5 218.5,350.5 248.5,335.5 263.5,320.5 278.5,305.5 291.5,290.5 305.5,275.5 322.5,260.5 340.5,245.5 359.5,230.5 372.5,215.5 384.5,200.5 396.5,185.5 406.5,170.5 416.5,155.5 427.5,140.5 444.5,125.5 455.5,110.5 464.5,95.5 473.5,80.5"/>
<polyline points="161.5,365.5 227.5,350.5 256.5,335.5 275.5,320.5 295.5,305.5 312.5,290.5 326.5,275.5 341.5,260.5 357.5,245.5 372.5,230.5 383.5,215.5 395.5,200.5 405.5,185.5 414.5,170.5 423.5,155.5 432.5,140.5 445.5,125.5 455.5,110.5 464.5,95.5 474.5,80.5"/>
<polyline points="152.5,365.5 210.5,350.5 235.5,335.5 251.5,320.5 269.5,305.5 284.5,290.5 300.5,275.5 316.5,260.5 335.5,245.5 353.5,230.5 364.5,215.5 375.5,200.5 388.5,185.5 399.5,170.5 412.5,155.5 424.5,140.5 440.5,125.5 450.5,110.5 461.5,95.5 474.5,80.5"/>
<polyline points="169.5,365.5 209.5,350.5 233.5,335.5 249.5,320.5 271.5,305.5 291.5,290.5 315.5,275.5 330.5,260.5 347.5,245.5 365.5,230.5 378.5,215.5 388.5,200.5 397.5,185.5 409.5,170.5 418.5,155.5 427.5,140.5 437.5,125.5 450.5,110.5 466.5,95.5 478.5,80.5"/>
<polyline points="129.5,365.5 174.5,350.5 198.5,335.5 214.5,320.5 233.5,305.5 253.5,290.5 278.5,275.5 295.5,260.5 315.5,245.5 336.5,230.5 353.5,215.5 367.5,200.5 378.5,185.5 393.5,170.5 406.5,155.5 417.5,140.5 428.5,125.5 444.5,110.5 460.5,95.5 472.5,80.5"/>
<polyline points="130.5,365.5 188.5,350.5 224.5,335.5 247.5,320.5 263.5,305.5 282.5,290.5 305.5,275.5 323.5,260.5 337.5,245.5 349.5,230.5 363.5,215.5 374.5,200.5 388.5,185.5 403.5,170.5 424.5,155.5 443.5,140.5 455.5,125.5 467.5,110.5 475.5,95.5 482.5,80.5"/>
<polyline points="109.5,365.5 168.5,350.5 206.5,335.5 232.5,320.5 250.5,305.5 271.5,290.5 294.5,275.5 313.5,260.5 325.5,245.5 338.5,230.5 351.5,215.5 361.5,200.5 373.5,185.5 386.5,170.5 410.5,155.5 429.5,140.5 443.5,125.5 457.5,110.5 467.5,95.5 475.5,80.5"/>
<polyline points="123.5,365.5 188.5,350.5 228.5,335.5 252.5,320.5 269.5,305.5 291.5,290.5 315.5,275.5 332.5,260.5 347.5,245.5 362.5,230.5 377.5,215.5 387.5,200.5 400.5,185.5 415.5,170.5 435.5,155.5 451.5,140.5 460.5,125.5 471.5,110.5 478.5,95.5 485.5,80.5"/>
<polyline points="109.5,365.5 163.5,350.5 197.5,335.5 225.5,320.5 245.5,305.5 272.5,290.5 295.5,275.5 316.5,260.5 332.5,245.5 344.5,230.5 356.5,215.5 365.5,200.5 379.5,185.5 397.5,170.5 422.5,155.5 440.5,140.5 452.5,125.5 465.5,110.5 474.5,95.5 481.5,80.5"/>
<polyline points="109.5,365.5 163.5,350.5 203.5,335.5 227.5,320.5 249.5,305.5 273.5,290.5 296.5,275.5 315.5,260.5 329.5,245.5 343.5,230.5 357.5,215.5 370.5,200.5 384.5,185.5 401.5,170.5 424.5,155.5 443.5,140.5 454.5,125.5 465.5,110.5 473.5,95.5 479.5,80.5"/>
<polyline points="146.5,365.5 195.5,350.5 229.5,335.5 254.5,320.5 267.5,305.5 278.5,290.5 293.5,275.5 307.5,260.5 324.5,245.5 337.5,230.5 351.5,215.5 369.5,200.5 397.5,185.5 418.5,170.5 432.5,155.5 448.5,140.5 462.5,125.5 475.5,110.5 488.5,95.5 502.5,80.5"/>
<polyline points="119.5,365.5 162.5,350.5 193.5,335.5 222.5,320.5 234.5,305.5 248.5,290.5 270.5,275.5 289.5,260.5 310.5,245.5 327.5,230.5 342.5,215.5 364.5,200.5 391.5,185.5 414.5,170.5 430.5,155.5 444.5,140.5 456.5,125.5 468.5,110.5 484.5,95.5 499.5,80.5"/>
<polyline points="138.5,365.5 189.5,350.5 226.5,335.5 256.5,320.5 269.5,305.5 283.5,290.5 300.5,275.5 312.5,260.5 329.5,245.5 343.5,230.5 357.5,215.5 378.5,200.5 403.5,185.5 420.5,170.5 432.5,155.5 447.5,140.5 460.5,125.5 474.5,110.5 488.5,95.5 502.5,80.5"/>
<polyline points="142.5,365.5 186.5,350.5 219.5,335.5 246.5,320.5 258.5,305.5 272.5,290.5 291.5,275.5 306.5,260.5 327.5,245.5 343.5,230.5 356.5,215.5 376.5,200.5 402.5,185.5 423.5,170.5 436.5,155.5 449.5,140.5 461.5,125.5 474.5,110.5 488.5,95.5 501.5,80.5"/>
<polyline points="134.5,365.5 179.5,350.5 214.5,335.5 240.5,320.5 251.5,305.5 264.5,290.5 281.5,275.5 295.5,260.5 313.5,245.5 329.5,230.5 345.5,215.5 364.5,200.5 394.5,185.5 415.5,170.5 429.5,155.5 445.5,140.5 459.5,125.5 473.5,110.5 488.5,95.5 502.5,80.5"/>
<polyline points="109.5,365.5 172.5,350.5 202.5,335.5 224.5,320.5 247.5,305.5 268.5,290.5 284.5,275.5 295.5,260.5 304.5,245.5 319.5,230.5 338.5,215.5 356.5,200.5 368.5,185.5 382.5,170.5 399.5,155.5 418.5,140.5 433.5,125.5 447.5,110.5 456.5,95.5 469.5,80.5"/>
<polyline points="109.5,365.5 162.5,350.5 195.5,335.5 216.5,320.5 236.5,305.5 257.5,290.5 272.5,275.5 284.5,260.5 292.5,245.5 309.5,230.5 330.5,215.5 350.5,200.5 364.5,185.5 379.5,170.5 397.5,155.5 418.5,140.5 433.5,125.5 452.5,110.5 464.5,95.5 481.5,80.5"/>
<polyline points="109.5,365.5 157.5,350.5 185.5,335.5 205.5,320.5 225.5,305.5 243.5,290.5 259.5,275.5 272.5,260.5 283.5,245.5 301.5,230.5 322.5,215.5 344.5,200.5 359.5,185.5 376.5,170.5 395.5,155.5 416.5,140.5 432.5,125.5 449.5,110.5 462.5,95.5 479.5,80.5"/>
<polyline points="123.5,365.5 179.5,350.5 207.5,335.5 229.5,320.5 252.5,305.5 275.5,290.5 292.5,275.5 304.5,260.5 315.5,245.5 331.5,230.5 349.5,215.5 366.5,200.5 377.5,185.5 389.5,170.5 406.5,155.5 424.5,140.5 440.5,125.5 457.5,110.5 467.5,95.5 481.5,80.5"/>
<polyline points="117.5,365.5 160.5,350.5 190.5,335.5 212.5,320.5 233.5,305.5 253.5,290.5 268.5,275.5 279.5,260.5 289.5,245.5 306.5,230.5 328.5,215.5 350.5,200.5 363.5,185.5 379.5,170.5 396.5,155.5 418.5,140.5 436.5,125.5 452.5,110.5 463.5,95.5 479.5,80.5"/>
<polyline points="146.5,365.5 219.5,350.5 243.5,335.5 256.5,320.5 272.5,305.5 286.5,290.5 300.5,275.5 318.5,260.5 340.5,245.5 361.5,230.5 380.5,215.5 393.5,200.5 410.5,185.5 427.5,170.5 442.5,155.5 455.5,140.5 471.5,125.5 480.5,110.5 489.5,95.5 497.5,80.5"/>
<polyline points="126.5,365.5 189.5,350.5 210.5,335.5 224.5,320.5 240.5,305.5 254.5,290.5 270.5,275.5 284.5,260.5 302.5,245.5 329.5,230.5 352.5,215.5 367.5,200.5 389.5,185.5 407.5,170.5 422.5,155.5 436.5,140.5 450.5,125.5 460.5,110.5 471.5,95.5 482.5,80.5"/>
<polyline points="134.5,365.5 194.5,350.5 215.5,335.5 227.5,320.5 241.5,305.5 255.5,290.5 271.5,275.5 287.5,260.5 308.5,245.5 330.5,230.5 354.5,215.5 370.5,200.5 391.5,185.5 413.5,170.5 429.5,155.5 444.5,140.5 460.5,125.5 471.5,110.5 481.5,95.5 489.5,80.5"/>
<polyline points="201.5,365.5 237.5,350.5 259.5,335.5 270.5,320.5 282.5,305.5 295.5,290.5 308.5,275.5 323.5,260.5 340.5,245.5 353.5,230.5 367.5,215.5 389.5,200.5 404.5,185.5 418.5,170.5 430.5,155.5 444.5,140.5 458.5,125.5 470.5,110.5 478.5,95.5 484.5,80.5"/>
<polyline points="165.5,365.5 210.5,350.5 232.5,335.5 243.5,320.5 256.5,305.5 272.5,290.5 286.5,275.5 302.5,260.5 322.5,245.5 338.5,230.5 354.5,215.5 380.5,200.5 396.5,185.5 411.5,170.5 424.5,155.5 439.5,140.5 456.5,125.5 471.5,110.5 479.5,95.5 485.5,80.5"/>
<polyline points="172.5,365.5 211.5,350.5 234.5,335.5 248.5,320.5 263.5,305.5 277.5,290.5 291.5,275.5 304.5,260.5 322.5,245.5 337.5,230.5 353.5,215.5 376.5,200.5 394.5,185.5 412.5,170.5 425.5,155.5 440.5,140.5 457.5,125.5 470.5,110.5 479.5,95.5 487.5,80.5"/>
<polyline points="193.5,365.5 236.5,350.5 263.5,335.5 286.5,320.5 304.5,305.5 326.5,290.5 343.5,275.5 364.5,260.5 377.5,245.5 392.5,230.5 406.5,215.5 421.5,200.5 435.5,185.5 455.5,170.5 473.5,155.5 488.5,140.5 499.5,125.5 511.5,110.5 521.5,95.5 528.5,80.5"/>
<polyline points="206.5,365.5 250.5,350.5 276.5,335.5 299.5,320.5 318.5,305.5 336.5,290.5 349.5,275.5 369.5,260.5 384.5,245.5 399.5,230.5 416.5,215.5 434.5,200.5 447.5,185.5 469.5,170.5 485.5,155.5 500.5,140.5 509.5,125.5 519.5,110.5 528.5,95.5 535.5,80.5"/>
<polyline points="193.5,365.5 241.5,350.5 272.5,335.5 292.5,320.5 309.5,305.5 328.5,290.5 341.5,275.5 360.5,260.5 373.5,245.5 389.5,230.5 404.5,215.5 418.5,200.5 432.5,185.5 456.5,170.5 473.5,155.5 488.5,140.5 498.5,125.5 510.5,110.5 521.5,95.5 529.5,80.5"/>
<polyline points="198.5,365.5 245.5,350.5 275.5,335.5 295.5,320.5 317.5,305.5 335.5,290.5 351.5,275.5 369.5,260.5 380.5,245.5 395.5,230.5 414.5,215.5 433.5,200.5 448.5,185.5 469.5,170.5 488.5,155.5 503.5,140.5 511.5,125.5 519.5,110.5 526.5,95.5 532.5,80.5"/>
<polyline points="206.5,365.5 251.5,350.5 277.5,335.5 297.5,320.5 316.5,305.5 334.5,290.5 352.5,275.5 375.5,260.5 387.5,245.5 404.5,230.5 422.5,215.5 439.5,200.5 452.5,185.5 472.5,170.5 489.5,155.5 505.5,140.5 515.5,125.5 525.5,110.5 533.5,95.5 539.5,80.5"/>
<polyline points="203.5,365.5 248.5,350.5 272.5,335.5 293.5,320.5 313.5,305.5 331.5,290.5 345.5,275.5 365.5,260.5 379.5,245.5 395.5,230.5 409.5,215.5 424.5,200.5 442.5,185.5 465.5,170.5 482.5,155.5 497.5,140.5 506.5,125.5 515.5,110.5 524.5,95.5 530.5,80.5"/>
<polyline points="193.5,365.5 229.5,350.5 252.5,335.5 272.5,320.5 292.5,305.5 308.5,290.5 325.5,275.5 342.5,260.5 367.5,245.5 388.5,230.5 411.5,215.5 431.5,200.5 448.5,185.5 464.5,170.5 477.5,155.5 490.5,140.5 498.5,125.5 504.5,110.5 510.5,95.5 516.5,80.5"/>
<polyline points="174.5,365.5 217.5,350.5 243.5,335.5 263.5,320.5 285.5,305.5 306.5,290.5 326.5,275.5 350.5,260.5 380.5,245.5 401.5,230.5 422.5,215.5 438.5,200.5 455.5,185.5 474.5,170.5 488.5,155.5 499.5,140.5 506.5,125.5 511.5,110.5 516.5,95.5 520.5,80.5"/>
<polyline points="174.5,365.5 217.5,350.5 246.5,335.5 269.5,320.5 294.5,305.5 315.5,290.5 332.5,275.5 350.5,260.5 377.5,245.5 398.5,230.5 418.5,215.5 436.5,200.5 453.5,185.5 470.5,170.5 485.5,155.5 498.5,140.5 507.5,125.5 514.5,110.5 521.5,95.5 527.5,80.5"/>
<polyline points="181.5,365.5 220.5,350.5 242.5,335.5 263.5,320.5 285.5,305.5 302.5,290.5 320.5,275.5 339.5,260.5 370.5,245.5 391.5,230.5 410.5,215.5 429.5,200.5 448.5,185.5 466.5,170.5 481.5,155.5 493.5,140.5 503.5,125.5 509.5,110.5 517.5,95.5 523.5,80.5"/>
<polyline points="206.5,365.5 243.5,350.5 267.5,335.5 289.5,320.5 311.5,305.5 328.5,290.5 347.5,275.5 367.5,260.5 395.5,245.5 417.5,230.5 438.5,215.5 456.5,200.5 471.5,185.5 486.5,170.5 498.5,155.5 506.5,140.5 513.5,125.5 519.5,110.5 525.5,95.5 530.5,80.5"/>
<polyline points="152.5,365.5 214.5,350.5 237.5,335.5 254.5,320.5 272.5,305.5 283.5,290.5 304.5,275.5 324.5,260.5 343.5,245.5 365.5,230.5 390.5,215.5 413.5,200.5 431.5,185.5 445.5,170.5 458.5,155.5 475.5,140.5 491.5,125.5 502.5,110.5 510.5,95.5 514.5,80.5"/>
<polyline points="149.5,365.5 215.5,350.5 236.5,335.5 253.5,320.5 273.5,305.5 288.5,290.5 308.5,275.5 332.5,260.5 352.5,245.5 373.5,230.5 397.5,215.5 417.5,200.5 432.5,185.5 447.5,170.5 457.5,155.5 471.5,140.5 486.5,125.5 497.5,110.5 504.5,95.5 508.5,80.5"/>
<polyline points="149.5,365.5 211.5,350.5 235.5,335.5 250.5,320.5 267.5,305.5 278.5,290.5 296.5,275.5 315.5,260.5 334.5,245.5 357.5,230.5 388.5,215.5 414.5,200.5 435.5,185.5 447.5,170.5 458.5,155.5 472.5,140.5 484.5,125.5 494.5,110.5 501.5,95.5 504.5,80.5"/>
<polyline points="144.5,365.5 203.5,350.5 226.5,335.5 245.5,320.5 264.5,305.5 275.5,290.5 295.5,275.5 316.5,260.5 332.5,245.5 349.5,230.5 372.5,215.5 393.5,200.5 416.5,185.5 433.5,170.5 446.5,155.5 463.5,140.5 476.5,125.5 488.5,110.5 497.5,95.5 503.5,80.5"/>
<polyline points="171.5,365.5 205.5,350.5 241.5,335.5 264.5,320.5 283.5,305.5 297.5,290.5 313.5,275.5 328.5,260.5 349.5,245.5 369.5,230.5 391.5,215.5 417.5,200.5 430.5,185.5 445.5,170.5 467.5,155.5 486.5,140.5 498.5,125.5 509.5,110.5 516.5,95.5 522.5,80.5"/>
<polyline points="166.5,365.5 197.5,350.5 230.5,335.5 253.5,320.5 270.5,305.5 283.5,290.5 299.5,275.5 314.5,260.5 335.5,245.5 358.5,230.5 381.5,215.5 411.5,200.5 425.5,185.5 440.5,170.5 463.5,155.5 482.5,140.5 492.5,125.5 503.5,110.5 510.5,95.5 515.5,80.5"/>
<polyline points="158.5,365.5 202.5,350.5 238.5,335.5 262.5,320.5 283.5,305.5 298.5,290.5 314.5,275.5 329.5,260.5 349.5,245.5 372.5,230.5 393.5,215.5 420.5,200.5 434.5,185.5 448.5,170.5 467.5,155.5 484.5,140.5 493.5,125.5 504.5,110.5 510.5,95.5 516.5,80.5"/>
<polyline points="148.5,365.5 187.5,350.5 228.5,335.5 256.5,320.5 275.5,305.5 290.5,290.5 306.5,275.5 325.5,260.5 348.5,245.5 369.5,230.5 391.5,215.5 416.5,200.5 429.5,185.5 444.5,170.5 465.5,155.5 485.5,140.5 497.5,125.5 508.5,110.5 515.5,95.5 521.5,80.5"/>
<polyline points="162.5,365.5 203.5,350.5 236.5,335.5 262.5,320.5 281.5,305.5 295.5,290.5 312.5,275.5 330.5,260.5 349.5,245.5 367.5,230.5 390.5,215.5 418.5,200.5 431.5,185.5 448.5,170.5 468.5,155.5 486.5,140.5 497.5,125.5 508.5,110.5 515.5,95.5 522.5,80.5"/>
<polyline points="144.5,365.5 189.5,350.5 234.5,335.5 258.5,320.5 278.5,305.5 291.5,290.5 306.5,275.5 323.5,260.5 348.5,245.5 371.5,230.5 394.5,215.5 418.5,200.5 431.5,185.5 449.5,170.5 471.5,155.5 491.5,140.5 501.5,125.5 511.5,110.5 516.5,95.5 521.5,80.5"/>
<polyline points="144.5,365.5 188.5,350.5 213.5,335.5 229.5,320.5 247.5,305.5 262.5,290.5 280.5,275.5 302.5,260.5 323.5,245.5 355.5,230.5 386.5,215.5 411.5,200.5 431.5,185.5 452.5,170.5 474.5,155.5 483.5,140.5 492.5,125.5 501.5,110.5 508.5,95.5 513.5,80.5"/>
<polyline points="176.5,365.5 217.5,350.5 242.5,335.5 257.5,320.5 273.5,305.5 291.5,290.5 307.5,275.5 328.5,260.5 344.5,245.5 367.5,230.5 389.5,215.5 414.5,200.5 431.5,185.5 450.5,170.5 470.5,155.5 479.5,140.5 488.5,125.5 498.5,110.5 507.5,95.5 513.5,80.5"/>
<polyline points="187.5,365.5 217.5,350.5 237.5,335.5 255.5,320.5 271.5,305.5 289.5,290.5 310.5,275.5 334.5,260.5 352.5,245.5 366.5,230.5 380.5,215.5 397.5,200.5 412.5,185.5 430.5,170.5 446.5,155.5 461.5,140.5 482.5,125.5 498.5,110.5 515.5,95.5 530.5,80.5"/>
<polyline points="178.5,365.5 207.5,350.5 225.5,335.5 243.5,320.5 256.5,305.5 272.5,290.5 294.5,275.5 316.5,260.5 332.5,245.5 349.5,230.5 367.5,215.5 385.5,200.5 400.5,185.5 421.5,170.5 441.5,155.5 458.5,140.5 480.5,125.5 496.5,110.5 512.5,95.5 524.5,80.5"/>
<polyline points="161.5,365.5 193.5,350.5 210.5,335.5 226.5,320.5 238.5,305.5 251.5,290.5 273.5,275.5 293.5,260.5 311.5,245.5 329.5,230.5 347.5,215.5 368.5,200.5 385.5,185.5 408.5,170.5 427.5,155.5 445.5,140.5 468.5,125.5 484.5,110.5 499.5,95.5 510.5,80.5"/>
<polyline points="157.5,365.5 190.5,350.5 207.5,335.5 223.5,320.5 236.5,305.5 252.5,290.5 275.5,275.5 295.5,260.5 312.5,245.5 328.5,230.5 346.5,215.5 368.5,200.5 384.5,185.5 406.5,170.5 426.5,155.5 445.5,140.5 471.5,125.5 489.5,110.5 506.5,95.5 518.5,80.5"/>
<polyline points="144.5,365.5 178.5,350.5 197.5,335.5 214.5,320.5 230.5,305.5 247.5,290.5 269.5,275.5 290.5,260.5 309.5,245.5 324.5,230.5 341.5,215.5 360.5,200.5 375.5,185.5 399.5,170.5 423.5,155.5 443.5,140.5 467.5,125.5 485.5,110.5 507.5,95.5 520.5,80.5"/>
<polyline points="173.5,365.5 200.5,350.5 217.5,335.5 233.5,320.5 245.5,305.5 263.5,290.5 284.5,275.5 306.5,260.5 321.5,245.5 335.5,230.5 352.5,215.5 372.5,200.5 387.5,185.5 410.5,170.5 430.5,155.5 448.5,140.5 474.5,125.5 489.5,110.5 506.5,95.5 521.5,80.5"/>
<polyline points="153.5,365.5 187.5,350.5 209.5,335.5 237.5,320.5 257.5,305.5 274.5,290.5 292.5,275.5 312.5,260.5 325.5,245.5 345.5,230.5 366.5,215.5 383.5,200.5 409.5,185.5 431.5,170.5 449.5,155.5 472.5,140.5 492.5,125.5 507.5,110.5 518.5,95.5 524.5,80.5"/>
<polyline points="177.5,365.5 245.5,350.5 289.5,335.5 312.5,320.5 339.5,305.5 361.5,290.5 381.5,275.5 399.5,260.5 420.5,245.5 439.5,230.5 456.5,215.5 474.5,200.5 493.5,185.5 510.5,170.5 525.5,155.5 535.5,140.5 543.5,125.5 552.5,110.5 557.5,95.5 562.5,80.5"/>
<polyline points="144.5,365.5 183.5,350.5 208.5,335.5 227.5,320.5 242.5,305.5 258.5,290.5 275.5,275.5 294.5,260.5 314.5,245.5 339.5,230.5 363.5,215.5 390.5,200.5 418.5,185.5 438.5,170.5 465.5,155.5 489.5,140.5 512.5,125.5 530.5,110.5 543.5,95.5 556.5,80.5"/>
<polyline points="144.5,365.5 185.5,350.5 208.5,335.5 224.5,320.5 239.5,305.5 254.5,290.5 269.5,275.5 285.5,260.5 303.5,245.5 325.5,230.5 346.5,215.5 371.5,200.5 401.5,185.5 425.5,170.5 452.5,155.5 478.5,140.5 503.5,125.5 524.5,110.5 539.5,95.5 552.5,80.5"/>
<polyline points="148.5,365.5 196.5,350.5 228.5,335.5 250.5,320.5 274.5,305.5 295.5,290.5 317.5,275.5 342.5,260.5 364.5,245.5 381.5,230.5 400.5,215.5 420.5,200.5 444.5,185.5 466.5,170.5 485.5,155.5 500.5,140.5 516.5,125.5 534.5,110.5 548.5,95.5 563.5,80.5"/>
<polyline points="191.5,365.5 238.5,350.5 270.5,335.5 292.5,320.5 310.5,305.5 324.5,290.5 342.5,275.5 363.5,260.5 379.5,245.5 395.5,230.5 410.5,215.5 428.5,200.5 450.5,185.5 471.5,170.5 485.5,155.5 501.5,140.5 517.5,125.5 532.5,110.5 544.5,95.5 556.5,80.5"/>
<polyline points="144.5,365.5 180.5,350.5 197.5,335.5 214.5,320.5 231.5,305.5 256.5,290.5 277.5,275.5 302.5,260.5 335.5,245.5 367.5,230.5 398.5,215.5 423.5,200.5 449.5,185.5 474.5,170.5 498.5,155.5 521.5,140.5 539.5,125.5 548.5,110.5 554.5,95.5 559.5,80.5"/>
<polyline points="144.5,365.5 182.5,350.5 202.5,335.5 219.5,320.5 236.5,305.5 262.5,290.5 288.5,275.5 314.5,260.5 346.5,245.5 375.5,230.5 407.5,215.5 430.5,200.5 453.5,185.5 479.5,170.5 502.5,155.5 522.5,140.5 537.5,125.5 545.5,110.5 550.5,95.5 554.5,80.5"/>
<polyline points="166.5,365.5 215.5,350.5 236.5,335.5 249.5,320.5 266.5,305.5 281.5,290.5 302.5,275.5 324.5,260.5 342.5,245.5 359.5,230.5 380.5,215.5 404.5,200.5 422.5,185.5 441.5,170.5 463.5,155.5 486.5,140.5 512.5,125.5 539.5,110.5 561.5,95.5 579.5,80.5"/>
<polyline points="206.5,365.5 250.5,350.5 266.5,335.5 279.5,320.5 293.5,305.5 308.5,290.5 327.5,275.5 348.5,260.5 367.5,245.5 384.5,230.5 404.5,215.5 430.5,200.5 453.5,185.5 473.5,170.5 493.5,155.5 514.5,140.5 530.5,125.5 550.5,110.5 566.5,95.5 579.5,80.5"/>
<polyline points="208.5,365.5 252.5,350.5 271.5,335.5 286.5,320.5 300.5,305.5 314.5,290.5 330.5,275.5 351.5,260.5 367.5,245.5 383.5,230.5 405.5,215.5 427.5,200.5 451.5,185.5 473.5,170.5 493.5,155.5 516.5,140.5 539.5,125.5 560.5,110.5 577.5,95.5 588.5,80.5"/>
<polyline points="175.5,365.5 224.5,350.5 239.5,335.5 253.5,320.5 268.5,305.5 282.5,290.5 299.5,275.5 316.5,260.5 332.5,245.5 350.5,230.5 372.5,215.5 395.5,200.5 426.5,185.5 453.5,170.5 476.5,155.5 498.5,140.5 521.5,125.5 545.5,110.5 569.5,95.5 585.5,80.5"/>
<polyline points="191.5,365.5 240.5,350.5 258.5,335.5 271.5,320.5 284.5,305.5 299.5,290.5 314.5,275.5 331.5,260.5 349.5,245.5 366.5,230.5 384.5,215.5 404.5,200.5 427.5,185.5 450.5,170.5 473.5,155.5 498.5,140.5 520.5,125.5 543.5,110.5 567.5,95.5 584.5,80.5"/>
<polyline points="208.5,365.5 252.5,350.5 271.5,335.5 286.5,320.5 301.5,305.5 317.5,290.5 333.5,275.5 353.5,260.5 371.5,245.5 388.5,230.5 410.5,215.5 434.5,200.5 454.5,185.5 473.5,170.5 494.5,155.5 516.5,140.5 534.5,125.5 553.5,110.5 571.5,95.5 583.5,80.5"/>
<polyline points="172.5,365.5 217.5,350.5 242.5,335.5 262.5,320.5 286.5,305.5 308.5,290.5 333.5,275.5 357.5,260.5 379.5,245.5 399.5,230.5 422.5,215.5 446.5,200.5 471.5,185.5 493.5,170.5 516.5,155.5 536.5,140.5 550.5,125.5 567.5,110.5 580.5,95.5 590.5,80.5"/>
<polyline points="208.5,365.5 257.5,350.5 282.5,335.5 302.5,320.5 323.5,305.5 338.5,290.5 353.5,275.5 369.5,260.5 386.5,245.5 405.5,230.5 427.5,215.5 447.5,200.5 467.5,185.5 486.5,170.5 506.5,155.5 524.5,140.5 538.5,125.5 554.5,110.5 569.5,95.5 579.5,80.5"/>
<polyline points="173.5,365.5 227.5,350.5 254.5,335.5 270.5,320.5 293.5,305.5 313.5,290.5 332.5,275.5 353.5,260.5 373.5,245.5 394.5,230.5 419.5,215.5 445.5,200.5 469.5,185.5 492.5,170.5 515.5,155.5 535.5,140.5 549.5,125.5 563.5,110.5 575.5,95.5 585.5,80.5"/>
<polyline points="174.5,365.5 223.5,350.5 247.5,335.5 264.5,320.5 285.5,305.5 303.5,290.5 321.5,275.5 339.5,260.5 359.5,245.5 380.5,230.5 405.5,215.5 430.5,200.5 453.5,185.5 480.5,170.5 507.5,155.5 530.5,140.5 546.5,125.5 561.5,110.5 576.5,95.5 588.5,80.5"/>
<polyline points="166.5,365.5 226.5,350.5 250.5,335.5 264.5,320.5 277.5,305.5 294.5,290.5 309.5,275.5 329.5,260.5 347.5,245.5 364.5,230.5 380.5,215.5 396.5,200.5 414.5,185.5 436.5,170.5 465.5,155.5 494.5,140.5 528.5,125.5 556.5,110.5 575.5,95.5 592.5,80.5"/>
<polyline points="166.5,365.5 218.5,350.5 237.5,335.5 253.5,320.5 268.5,305.5 283.5,290.5 299.5,275.5 319.5,260.5 340.5,245.5 361.5,230.5 380.5,215.5 401.5,200.5 419.5,185.5 439.5,170.5 468.5,155.5 492.5,140.5 517.5,125.5 543.5,110.5 566.5,95.5 591.5,80.5"/>
<polyline points="166.5,365.5 227.5,350.5 248.5,335.5 262.5,320.5 276.5,305.5 289.5,290.5 303.5,275.5 319.5,260.5 336.5,245.5 354.5,230.5 373.5,215.5 394.5,200.5 415.5,185.5 437.5,170.5 464.5,155.5 491.5,140.5 519.5,125.5 542.5,110.5 564.5,95.5 589.5,80.5"/>
<polyline points="166.5,365.5 213.5,350.5 233.5,335.5 246.5,320.5 261.5,305.5 276.5,290.5 291.5,275.5 311.5,260.5 331.5,245.5 352.5,230.5 373.5,215.5 394.5,200.5 414.5,185.5 437.5,170.5 468.5,155.5 496.5,140.5 526.5,125.5 550.5,110.5 571.5,95.5 591.5,80.5"/>
<polyline points="166.5,365.5 219.5,350.5 241.5,335.5 255.5,320.5 268.5,305.5 282.5,290.5 297.5,275.5 315.5,260.5 333.5,245.5 353.5,230.5 373.5,215.5 399.5,200.5 423.5,185.5 447.5,170.5 474.5,155.5 499.5,140.5 526.5,125.5 551.5,110.5 572.5,95.5 594.5,80.5"/>
<polyline points="191.5,365.5 241.5,350.5 259.5,335.5 272.5,320.5 285.5,305.5 298.5,290.5 314.5,275.5 333.5,260.5 348.5,245.5 365.5,230.5 380.5,215.5 401.5,200.5 422.5,185.5 449.5,170.5 478.5,155.5 504.5,140.5 534.5,125.5 560.5,110.5 578.5,95.5 594.5,80.5"/>
<polyline points="166.5,365.5 218.5,350.5 239.5,335.5 253.5,320.5 268.5,305.5 284.5,290.5 300.5,275.5 319.5,260.5 338.5,245.5 357.5,230.5 377.5,215.5 399.5,200.5 420.5,185.5 444.5,170.5 469.5,155.5 496.5,140.5 525.5,125.5 549.5,110.5 571.5,95.5 592.5,80.5"/>
<polyline points="208.5,365.5 247.5,350.5 266.5,335.5 287.5,320.5 307.5,305.5 324.5,290.5 345.5,275.5 366.5,260.5 385.5,245.5 405.5,230.5 423.5,215.5 442.5,200.5 465.5,185.5 493.5,170.5 515.5,155.5 533.5,140.5 548.5,125.5 559.5,110.5 567.5,95.5 574.5,80.5"/>
<polyline points="208.5,365.5 247.5,350.5 272.5,335.5 293.5,320.5 310.5,305.5 327.5,290.5 347.5,275.5 367.5,260.5 388.5,245.5 409.5,230.5 428.5,215.5 442.5,200.5 461.5,185.5 486.5,170.5 511.5,155.5 530.5,140.5 546.5,125.5 559.5,110.5 569.5,95.5 577.5,80.5"/>
<polyline points="240.5,365.5 263.5,350.5 297.5,335.5 346.5,320.5 375.5,305.5 396.5,290.5 422.5,275.5 450.5,260.5 478.5,245.5 506.5,230.5 534.5,215.5 560.5,200.5 570.5,185.5 580.5,170.5 590.5,155.5 598.5,140.5 602.5,125.5 604.5,110.5 605.5,95.5 605.5,80.5"/>
<polyline points="246.5,365.5 262.5,350.5 292.5,335.5 340.5,320.5 371.5,305.5 398.5,290.5 427.5,275.5 455.5,260.5 483.5,245.5 511.5,230.5 538.5,215.5 555.5,200.5 567.5,185.5 578.5,170.5 588.5,155.5 595.5,140.5 599.5,125.5 601.5,110.5 602.5,95.5 603.5,80.5"/>
<polyline points="232.5,365.5 256.5,350.5 303.5,335.5 319.5,320.5 324.5,305.5 364.5,290.5 396.5,275.5 425.5,260.5 455.5,245.5 483.5,230.5 512.5,215.5 538.5,200.5 555.5,185.5 571.5,170.5 583.5,155.5 591.5,140.5 596.5,125.5 598.5,110.5 599.5,95.5 600.5,80.5"/>
<polyline points="200.5,365.5 240.5,350.5 270.5,335.5 295.5,320.5 320.5,305.5 345.5,290.5 370.5,275.5 395.5,260.5 418.5,245.5 445.5,230.5 472.5,215.5 485.5,200.5 490.5,185.5 493.5,170.5 495.5,155.5 497.5,140.5 500.5,125.5 502.5,110.5 504.5,95.5 505.5,80.5"/>
<polyline points="190.5,365.5 236.5,350.5 262.5,335.5 284.5,320.5 304.5,305.5 324.5,290.5 346.5,275.5 368.5,260.5 390.5,245.5 412.5,230.5 436.5,215.5 460.5,200.5 482.5,185.5 500.5,170.5 512.5,155.5 518.5,140.5 520.5,125.5 521.5,110.5 522.5,95.5 522.5,80.5"/>
<polyline points="222.5,365.5 251.5,350.5 269.5,335.5 286.5,320.5 304.5,305.5 325.5,290.5 348.5,275.5 369.5,260.5 391.5,245.5 415.5,230.5 452.5,215.5 493.5,200.5 528.5,185.5 551.5,170.5 564.5,155.5 576.5,140.5 583.5,125.5 587.5,110.5 589.5,95.5 592.5,80.5"/>
<polyline points="226.5,365.5 254.5,350.5 272.5,335.5 291.5,320.5 309.5,305.5 329.5,290.5 349.5,275.5 372.5,260.5 394.5,245.5 417.5,230.5 454.5,215.5 494.5,200.5 529.5,185.5 552.5,170.5 569.5,155.5 578.5,140.5 586.5,125.5 590.5,110.5 593.5,95.5 595.5,80.5"/>
<polyline points="229.5,365.5 257.5,350.5 274.5,335.5 293.5,320.5 310.5,305.5 332.5,290.5 353.5,275.5 376.5,260.5 398.5,245.5 422.5,230.5 458.5,215.5 499.5,200.5 533.5,185.5 557.5,170.5 571.5,155.5 581.5,140.5 588.5,125.5 593.5,110.5 597.5,95.5 600.5,80.5"/>
<polyline points="203.5,365.5 255.5,350.5 267.5,335.5 279.5,320.5 292.5,305.5 309.5,290.5 326.5,275.5 344.5,260.5 363.5,245.5 385.5,230.5 405.5,215.5 423.5,200.5 448.5,185.5 483.5,170.5 514.5,155.5 542.5,140.5 561.5,125.5 570.5,110.5 575.5,95.5 582.5,80.5"/>
<polyline points="211.5,365.5 256.5,350.5 267.5,335.5 283.5,320.5 299.5,305.5 316.5,290.5 335.5,275.5 354.5,260.5 370.5,245.5 390.5,230.5 412.5,215.5 432.5,200.5 457.5,185.5 491.5,170.5 524.5,155.5 548.5,140.5 566.5,125.5 576.5,110.5 580.5,95.5 581.5,80.5"/>
<polyline points="212.5,365.5 254.5,350.5 271.5,335.5 281.5,320.5 296.5,305.5 316.5,290.5 336.5,275.5 352.5,260.5 374.5,245.5 399.5,230.5 420.5,215.5 437.5,200.5 461.5,185.5 496.5,170.5 531.5,155.5 556.5,140.5 571.5,125.5 581.5,110.5 584.5,95.5 589.5,80.5"/>
<polyline points="217.5,365.5 254.5,350.5 271.5,335.5 286.5,320.5 301.5,305.5 318.5,290.5 339.5,275.5 360.5,260.5 380.5,245.5 404.5,230.5 426.5,215.5 447.5,200.5 472.5,185.5 506.5,170.5 536.5,155.5 562.5,140.5 578.5,125.5 584.5,110.5 588.5,95.5 588.5,80.5"/>
<polyline points="228.5,365.5 256.5,350.5 271.5,335.5 284.5,320.5 301.5,305.5 323.5,290.5 348.5,275.5 369.5,260.5 388.5,245.5 407.5,230.5 434.5,215.5 455.5,200.5 478.5,185.5 514.5,170.5 541.5,155.5 571.5,140.5 586.5,125.5 592.5,110.5 593.5,95.5 593.5,80.5"/>
<polyline points="225.5,365.5 253.5,350.5 267.5,335.5 283.5,320.5 303.5,305.5 327.5,290.5 347.5,275.5 368.5,260.5 392.5,245.5 416.5,230.5 438.5,215.5 459.5,200.5 483.5,185.5 517.5,170.5 546.5,155.5 573.5,140.5 587.5,125.5 596.5,110.5 597.5,95.5 597.5,80.5"/>
<polyline points="233.5,365.5 251.5,350.5 267.5,335.5 287.5,320.5 308.5,305.5 332.5,290.5 357.5,275.5 380.5,260.5 400.5,245.5 425.5,230.5 449.5,215.5 470.5,200.5 494.5,185.5 528.5,170.5 557.5,155.5 580.5,140.5 593.5,125.5 601.5,110.5 602.5,95.5 602.5,80.5"/>
<polyline points="83.5,365.5 85.5,350.5 88.5,335.5 91.5,320.5 95.5,305.5 98.5,290.5 104.5,275.5 110.5,260.5 115.5,245.5 120.5,230.5 126.5,215.5 131.5,200.5 135.5,185.5 139.5,170.5 143.5,155.5 148.5,140.5 152.5,125.5 157.5,110.5 162.5,95.5 166.5,80.5"/>
<polyline points="85.5,365.5 88.5,350.5 91.5,335.5 95.5,320.5 99.5,305.5 103.5,290.5 108.5,275.5 113.5,260.5 118.5,245.5 124.5,230.5 130.5,215.5 135.5,200.5 140.5,185.5 144.5,170.5 148.5,155.5 152.5,140.5 157.5,125.5 162.5,110.5 166.5,95.5 170.5,80.5"/>
<polyline points="86.5,365.5 90.5,350.5 94.5,335.5 99.5,320.5 104.5,305.5 109.5,290.5 113.5,275.5 118.5,260.5 123.5,245.5 128.5,230.5 133.5,215.5 138.5,200.5 143.5,185.5 148.5,170.5 152.5,155.5 157.5,140.5 161.5,125.5 165.5,110.5 169.5,95.5 173.5,80.5"/>
</g>
<g fill="none" stroke="#000" stroke-width="1" shape-rendering="crispEdges" stroke-linejoin="round">
<polyline points="118.5,365.5 132.5,350.5 142.5,335.5 143.5,320.5 144.5,305.5 145.0,290.5 145.5,275.5 145.5,260.5 148.5,245.5 158.5,230.5 169.1,215.5 173.5,200.5 179.5,185.5 186.9,170.5 195.5,155.5 207.1,140.5 218.5,125.5 229.5,110.5 240.0,95.5 251.5,80.5"/>
<polyline points="120.5,365.5 134.5,350.5 144.0,335.5 145.0,320.5 146.0,305.5 146.5,290.5 147.5,275.5 163.5,260.5 168.0,245.5 174.8,230.5 174.8,215.5 178.2,200.5 183.9,185.5 189.5,170.5 196.5,155.5 207.5,140.5 218.5,125.5 229.5,110.5 240.0,95.5 251.5,80.5"/>
<polyline points="122.5,365.5 136.5,350.5 145.5,335.5 146.5,320.5 147.5,305.5 148.0,290.5 148.5,275.5 164.5,260.5 177.1,245.5 188.5,230.5 195.5,215.5 197.5,200.5 201.5,185.5 202.8,170.5 204.8,155.5 208.2,140.5 211.5,125.5 214.5,110.5 216.2,95.5 217.3,80.5"/>
<polyline points="134.5,365.5 142.5,350.5 160.5,335.5 167.5,320.5 173.5,305.5 178.5,290.5 183.5,275.5 188.5,260.5 196.5,245.5 202.1,230.5 203.5,215.5 206.5,200.5 215.5,185.5 215.5,170.5 221.5,155.5 226.5,140.5 228.5,125.5 232.1,110.5 235.0,95.5 235.5,80.5"/>
<g transform="translate(1,0)">
<polyline points="118.5,365.5 132.5,350.5 142.5,335.5 143.5,320.5 144.5,305.5 145.0,290.5 145.5,275.5 145.5,260.5 148.5,245.5 158.5,230.5 169.1,215.5 173.5,200.5 179.5,185.5 186.9,170.5 195.5,155.5 207.1,140.5 218.5,125.5 229.5,110.5 240.0,95.5 251.5,80.5"/>
<polyline points="120.5,365.5 134.5,350.5 144.0,335.5 145.0,320.5 146.0,305.5 146.5,290.5 147.5,275.5 163.5,260.5 168.0,245.5 174.8,230.5 174.8,215.5 178.2,200.5 183.9,185.5 189.5,170.5 196.5,155.5 207.5,140.5 218.5,125.5 229.5,110.5 240.0,95.5 251.5,80.5"/>
<polyline points="122.5,365.5 136.5,350.5 145.5,335.5 146.5,320.5 147.5,305.5 148.0,290.5 148.5,275.5 164.5,260.5 177.1,245.5 188.5,230.5 195.5,215.5 197.5,200.5 201.5,185.5 202.8,170.5 204.8,155.5 208.2,140.5 211.5,125.5 214.5,110.5 216.2,95.5 217.3,80.5"/>
<polyline points="134.5,365.5 142.5,350.5 160.5,335.5 167.5,320.5 173.5,305.5 178.5,290.5 183.5,275.5 188.5,260.5 196.5,245.5 202.1,230.5 203.5,215.5 206.5,200.5 215.5,185.5 215.5,170.5 221.5,155.5 226.5,140.5 228.5,125.5 232.1,110.5 235.0,95.5 235.5,80.5"/>
</g>
<g transform="translate(0,1)">
<polyline points="118.5,365.5 132.5,350.5 142.5,335.5 143.5,320.5 144.5,305.5 145.0,290.5 145.5,275.5 145.5,260.5 148.5,245.5 158.5,230.5 169.1,215.5 173.5,200.5 179.5,185.5 186.9,170.5 195.5,155.5 207.1,140.5 218.5,125.5 229.5,110.5 240.0,95.5 251.5,80.5"/>
<polyline points="120.5,365.5 134.5,350.5 144.0,335.5 145.0,320.5 146.0,305.5 146.5,290.5 147.5,275.5 163.5,260.5 168.0,245.5 174.8,230.5 174.8,215.5 178.2,200.5 183.9,185.5 189.5,170.5 196.5,155.5 207.5,140.5 218.5,125.5 229.5,110.5 240.0,95.5 251.5,80.5"/>
<polyline points="122.5,365.5 136.5,350.5 145.5,335.5 146.5,320.5 147.5,305.5 148.0,290.5 148.5,275.5 164.5,260.5 177.1,245.5 188.5,230.5 195.5,215.5 197.5,200.5 201.5,185.5 202.8,170.5 204.8,155.5 208.2,140.5 211.5,125.5 214.5,110.5 216.2,95.5 217.3,80.5"/>
<polyline points="134.5,365.5 142.5,350.5 160.5,335.5 167.5,320.5 173.5,305.5 178.5,290.5 183.5,275.5 188.5,260.5 196.5,245.5 202.1,230.5 203.5,215.5 206.5,200.5 215.5,185.5 215.5,170.5 221.5,155.5 226.5,140.5 228.5,125.5 232.1,110.5 235.0,95.5 235.5,80.5"/>
</g>
</g>
<g fill="none" stroke="#0000ff" stroke-width="1" shape-rendering="crispEdges" stroke-linejoin="round">
<polyline points="115.5,365.5 137.5,350.5 152.5,335.5 162.5,320.5 170.5,305.5 176.5,290.5 180.5,275.5 183.5,260.5 187.5,245.5 189.5,230.5 196.5,215.5 198.5,200.5 202.5,185.5 206.5,170.5 211.5,155.5 215.0,140.5 220.0,125.5 223.0,110.5 226.5,95.5 228.5,80.5"/>
<g transform="translate(1,0)">
<polyline points="115.5,365.5 137.5,350.5 152.5,335.5 162.5,320.5 170.5,305.5 176.5,290.5 180.5,275.5 183.5,260.5 187.5,245.5 189.5,230.5 196.5,215.5 198.5,200.5 202.5,185.5 206.5,170.5 211.5,155.5 215.0,140.5 220.0,125.5 223.0,110.5 226.5,95.5 228.5,80.5"/>
</g>
<g transform="translate(0,1)">
<polyline points="115.5,365.5 137.5,350.5 152.5,335.5 162.5,320.5 170.5,305.5 176.5,290.5 180.5,275.5 183.5,260.5 187.5,245.5 189.5,230.5 196.5,215.5 198.5,200.5 202.5,185.5 206.5,170.5 211.5,155.5 215.0,140.5 220.0,125.5 223.0,110.5 226.5,95.5 228.5,80.5"/>
</g>
</g>
<g fill="#000" shape-rendering="crispEdges">
<rect x="65" y="65" width="551" height="1"/>
<rect x="65" y="375" width="551" height="1"/>
<rect x="65" y="65" width="1" height="311"/>
<rect x="615" y="65" width="1" height="311"/>
<rect x="128" y="370" width="1" height="6"/>
<rect x="128" y="65" width="1" height="6"/>
<rect x="181" y="365" width="1" height="11"/>
<rect x="181" y="65" width="1" height="11"/>
<rect x="234" y="370" width="1" height="6"/>
<rect x="234" y="65" width="1" height="6"/>
<rect x="287" y="365" width="1" height="11"/>
<rect x="287" y="65" width="1" height="11"/>
<rect x="340" y="370" width="1" height="6"/>
<rect x="340" y="65" width="1" height="6"/>
<rect x="393" y="365" width="1" height="11"/>
<rect x="393" y="65" width="1" height="11"/>
<rect x="446" y="370" width="1" height="6"/>
<rect x="446" y="65" width="1" height="6"/>
<rect x="499" y="365" width="1" height="11"/>
<rect x="499" y="65" width="1" height="11"/>
<rect x="552" y="370" width="1" height="6"/>
<rect x="552" y="65" width="1" height="6"/>
<rect x="605" y="365" width="1" height="11"/>
<rect x="605" y="65" width="1" height="11"/>
<rect x="65" y="75" width="11" height="1"/>
<rect x="605" y="75" width="11" height="1"/>
<rect x="65" y="104" width="6" height="1"/>
<rect x="610" y="104" width="6" height="1"/>
<rect x="65" y="133" width="6" height="1"/>
<rect x="610" y="133" width="6" height="1"/>
<rect x="65" y="162" width="6" height="1"/>
<rect x="610" y="162" width="6" height="1"/>
<rect x="65" y="191" width="6" height="1"/>
<rect x="610" y="191" width="6" height="1"/>
<rect x="65" y="220" width="11" height="1"/>
<rect x="605" y="220" width="11" height="1"/>
<rect x="65" y="249" width="6" height="1"/>
<rect x="610" y="249" width="6" height="1"/>
<rect x="65" y="278" width="6" height="1"/>
<rect x="610" y="278" width="6" height="1"/>
<rect x="65" y="307" width="6" height="1"/>
<rect x="610" y="307" width="6" height="1"/>
<rect x="65" y="336" width="6" height="1"/>
<rect x="610" y="336" width="6" height="1"/>
</g>
<g text-anchor="middle" style="opacity:0.999">
<text transform="translate(334,30) scale(1,0.81)">T1030</text>
<text transform="translate(334.5,420) scale(1,0.81)" style="letter-spacing:0.1px">Percent of Residues (CA)</text>
<text transform="translate(64.5,395) scale(1,0.81)">0</text>
<text transform="translate(180,395) scale(1,0.81)">20</text>
<text transform="translate(286,395) scale(1,0.81)">40</text>
<text transform="translate(392.5,395) scale(1,0.81)">60</text>
<text transform="translate(498,395) scale(1,0.81)">80</text>
<text transform="translate(609,395) scale(1,0.81)">100</text>
<text transform="translate(55,375) rotate(-90) scale(1,0.81)">0</text>
<text transform="translate(55,220) rotate(-90) scale(1,0.81)">5</text>
<text transform="translate(55,65) rotate(-90) scale(1,0.81)">10</text>
<text transform="translate(29.5,234.5) rotate(-90) scale(1,0.81)" style="letter-spacing:0.12px">Distance Cutoff, A</text>
</g>
</svg>
</body></html>
